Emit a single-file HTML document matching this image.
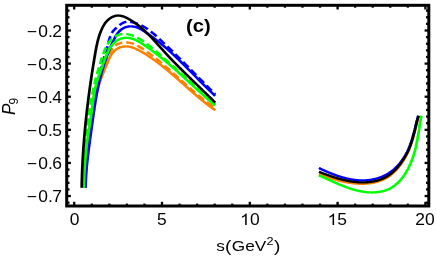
<!DOCTYPE html>
<html><head><meta charset="utf-8"><title>plot</title>
<style>
html,body{margin:0;padding:0;background:#fff;}
svg{display:block;font-family:"Liberation Sans",sans-serif;}
</style></head><body>
<svg width="436" height="262" viewBox="0 0 436 262">
<rect width="436" height="262" fill="#fff"/>
<g fill="none" stroke-width="2.4" stroke-linecap="butt" stroke-linejoin="round" transform="scale(1.14,1)">
<path d="M74.56,187.80 L74.58,187.14 L74.61,186.47 L74.63,185.81 L74.66,185.15 L74.68,184.48 L74.71,183.82 L74.74,183.16 L74.76,182.49 L74.79,181.83 L74.82,181.16 L74.85,180.50 L74.88,179.84 L74.91,179.17 L74.94,178.51 L74.98,177.84 L75.01,177.18 L75.04,176.52 L75.08,175.85 L75.11,175.19 L75.15,174.53 L75.18,173.86 L75.22,173.20 L75.26,172.53 L75.30,171.87 L75.34,171.21 L75.38,170.54 L75.42,169.88 L75.46,169.21 L75.50,168.55 L75.55,167.89 L75.59,167.22 L75.64,166.56 L75.68,165.90 L75.73,165.23 L75.78,164.57 L75.82,163.91 L75.87,163.24 L75.92,162.58 L75.97,161.92 L76.03,161.26 L76.08,160.59 L76.13,159.93 L76.19,159.27 L76.24,158.61 L76.30,157.94 L76.36,157.28 L76.41,156.62 L76.47,155.96 L76.53,155.30 L76.60,154.63 L76.66,153.97 L76.72,153.31 L76.78,152.65 L76.85,151.99 L76.92,151.33 L76.98,150.67 L77.05,150.01 L77.12,149.35 L77.19,148.69 L77.26,148.03 L77.33,147.37 L77.41,146.71 L77.48,146.05 L77.56,145.39 L77.63,144.73 L77.71,144.07 L77.79,143.41 L77.87,142.76 L77.95,142.10 L78.03,141.44 L78.12,140.78 L78.20,140.13 L78.29,139.47 L78.37,138.81 L78.46,138.16 L78.55,137.50 L78.64,136.84 L78.73,136.19 L78.83,135.53 L78.92,134.88 L79.01,134.22 L79.11,133.57 L79.20,132.91 L79.30,132.26 L79.40,131.60 L79.50,130.95 L79.59,130.29 L79.69,129.64 L79.79,128.99 L79.89,128.33 L79.99,127.68 L80.09,127.02 L80.19,126.37 L80.29,125.71 L80.39,125.06 L80.49,124.41 L80.59,123.75 L80.69,123.10 L80.79,122.44 L80.89,121.79 L80.99,121.13 L81.09,120.48 L81.18,119.82 L81.28,119.17 L81.38,118.51 L81.47,117.85 L81.57,117.20 L81.66,116.54 L81.76,115.88 L81.85,115.23 L81.94,114.57 L82.03,113.91 L82.12,113.25 L82.21,112.59 L82.30,111.93 L82.38,111.27 L82.47,110.61 L82.55,109.95 L82.63,109.29 L82.72,108.63 L82.80,107.97 L82.88,107.31 L82.96,106.65 L83.05,105.99 L83.13,105.33 L83.21,104.67 L83.30,104.01 L83.38,103.35 L83.47,102.69 L83.55,102.03 L83.64,101.37 L83.73,100.72 L83.82,100.06 L83.91,99.40 L84.01,98.74 L84.10,98.09 L84.20,97.43 L84.30,96.78 L84.40,96.13 L84.51,95.47 L84.62,94.82 L84.73,94.17 L84.84,93.52 L84.96,92.87 L85.08,92.23 L85.20,91.58 L85.33,90.94 L85.46,90.29 L85.60,89.65 L85.74,89.01 L85.88,88.37 L86.03,87.73 L86.18,87.10 L86.34,86.46 L86.50,85.83 L86.66,85.20 L86.83,84.56 L87.01,83.94 L87.18,83.31 L87.36,82.68 L87.55,82.05 L87.73,81.43 L87.92,80.80 L88.12,80.18 L88.31,79.56 L88.51,78.94 L88.71,78.32 L88.92,77.70 L89.12,77.08 L89.33,76.46 L89.54,75.84 L89.75,75.22 L89.97,74.60 L90.19,73.98 L90.40,73.37 L90.62,72.75 L90.84,72.13 L91.06,71.51 L91.29,70.90 L91.51,70.28 L91.74,69.66 L91.96,69.04 L92.19,68.43 L92.41,67.81 L92.64,67.19 L92.87,66.57 L93.09,65.95 L93.32,65.33 L93.54,64.71 L93.77,64.09 L94.00,63.47 L94.22,62.84 L94.44,62.22 L94.67,61.59 L94.89,60.97 L95.12,60.35 L95.35,59.73 L95.59,59.12 L95.82,58.51 L96.07,57.90 L96.32,57.30 L96.59,56.71 L96.86,56.12 L97.14,55.55 L97.43,54.98 L97.74,54.43 L98.05,53.88 L98.39,53.35 L98.74,52.83 L99.10,52.33 L99.48,51.84 L99.89,51.37 L100.31,50.91 L100.75,50.47 L101.20,50.05 L101.67,49.65 L102.16,49.27 L102.66,48.91 L103.17,48.57 L103.69,48.25 L104.22,47.96 L104.75,47.69 L105.30,47.44 L105.84,47.22 L106.39,47.03 L106.95,46.86 L107.50,46.71 L108.05,46.60 L108.60,46.51 L109.16,46.44 L109.71,46.40 L110.26,46.39 L110.82,46.40 L111.37,46.43 L111.92,46.48 L112.47,46.55 L113.02,46.64 L113.57,46.76 L114.12,46.89 L114.67,47.04 L115.22,47.20 L115.77,47.38 L116.32,47.58 L116.86,47.80 L117.40,48.02 L117.95,48.26 L118.49,48.52 L119.03,48.78 L119.57,49.06 L120.11,49.34 L120.64,49.64 L121.18,49.94 L121.71,50.26 L122.24,50.58 L122.77,50.90 L123.29,51.24 L123.82,51.57 L124.34,51.92 L124.86,52.26 L125.38,52.61 L125.90,52.96 L126.41,53.31 L126.92,53.67 L127.43,54.03 L127.94,54.39 L128.45,54.75 L128.95,55.11 L129.45,55.48 L129.95,55.84 L130.45,56.21 L130.94,56.59 L131.44,56.96 L131.93,57.33 L132.42,57.71 L132.90,58.09 L133.39,58.47 L133.87,58.85 L134.36,59.24 L134.84,59.62 L135.32,60.01 L135.79,60.40 L136.27,60.79 L136.74,61.19 L137.21,61.58 L137.69,61.98 L138.15,62.37 L138.62,62.77 L139.09,63.17 L139.55,63.58 L140.02,63.98 L140.48,64.38 L140.94,64.79 L141.40,65.20 L141.86,65.61 L142.31,66.02 L142.77,66.43 L143.22,66.84 L143.68,67.25 L144.13,67.67 L144.58,68.08 L145.03,68.50 L145.48,68.92 L145.93,69.34 L146.37,69.76 L146.82,70.18 L147.27,70.60 L147.71,71.03 L148.15,71.45 L148.60,71.87 L149.04,72.30 L149.48,72.73 L149.92,73.15 L150.36,73.58 L150.80,74.01 L151.23,74.44 L151.67,74.87 L152.11,75.30 L152.55,75.73 L152.98,76.17 L153.42,76.60 L153.85,77.03 L154.29,77.47 L154.72,77.90 L155.15,78.34 L155.59,78.77 L156.02,79.21 L156.45,79.64 L156.88,80.08 L157.32,80.52 L157.75,80.95 L158.18,81.39 L158.61,81.83 L159.04,82.26 L159.48,82.70 L159.91,83.14 L160.34,83.58 L160.77,84.02 L161.20,84.46 L161.63,84.89 L162.06,85.33 L162.50,85.77 L162.93,86.21 L163.36,86.65 L163.79,87.09 L164.22,87.52 L164.66,87.96 L165.09,88.40 L165.52,88.84 L165.96,89.27 L166.39,89.71 L166.83,90.15 L167.26,90.58 L167.70,91.02 L168.13,91.45 L168.57,91.89 L169.01,92.32 L169.44,92.76 L169.88,93.19 L170.32,93.63 L170.76,94.06 L171.20,94.49 L171.64,94.92 L172.08,95.35 L172.53,95.78 L172.97,96.21 L173.42,96.64 L173.86,97.07 L174.31,97.50 L174.75,97.92 L175.20,98.35 L175.65,98.77 L176.10,99.20 L176.55,99.62 L177.01,100.04 L177.46,100.46 L177.92,100.88 L178.37,101.30 L178.83,101.72 L179.29,102.14 L179.75,102.55 L180.21,102.97 L180.67,103.38 L181.14,103.79 L181.60,104.20 L182.07,104.61 L182.54,105.02 L183.01,105.43 L183.48,105.83 L183.95,106.24 L184.42,106.64 L184.90,107.04 L185.38,107.44 L185.86,107.84 L186.34,108.24 L186.82,108.63 L187.31,109.03 L187.79,109.42 L188.28,109.81 L188.77,110.20" stroke="#ff8000"/>
<path d="M74.39,187.80 L74.41,187.12 L74.43,186.45 L74.45,185.77 L74.48,185.10 L74.50,184.42 L74.53,183.75 L74.55,183.07 L74.58,182.39 L74.61,181.72 L74.63,181.04 L74.66,180.36 L74.69,179.69 L74.72,179.01 L74.75,178.33 L74.78,177.66 L74.81,176.98 L74.85,176.30 L74.88,175.62 L74.92,174.95 L74.95,174.27 L74.99,173.59 L75.02,172.92 L75.06,172.24 L75.10,171.56 L75.14,170.88 L75.18,170.21 L75.22,169.53 L75.26,168.85 L75.30,168.18 L75.34,167.50 L75.39,166.82 L75.43,166.14 L75.48,165.47 L75.52,164.79 L75.57,164.11 L75.62,163.44 L75.67,162.76 L75.72,162.08 L75.77,161.41 L75.82,160.73 L75.88,160.05 L75.93,159.38 L75.98,158.70 L76.04,158.03 L76.10,157.35 L76.16,156.67 L76.21,156.00 L76.27,155.32 L76.34,154.65 L76.40,153.97 L76.46,153.30 L76.53,152.63 L76.59,151.95 L76.66,151.28 L76.73,150.60 L76.80,149.93 L76.87,149.26 L76.94,148.58 L77.01,147.91 L77.08,147.24 L77.16,146.57 L77.23,145.89 L77.31,145.22 L77.39,144.55 L77.47,143.88 L77.55,143.21 L77.63,142.54 L77.71,141.87 L77.80,141.20 L77.88,140.53 L77.97,139.86 L78.06,139.19 L78.15,138.52 L78.24,137.85 L78.33,137.18 L78.42,136.52 L78.52,135.85 L78.61,135.18 L78.71,134.51 L78.81,133.85 L78.91,133.18 L79.00,132.52 L79.10,131.85 L79.20,131.18 L79.31,130.52 L79.41,129.85 L79.51,129.19 L79.61,128.52 L79.71,127.85 L79.82,127.19 L79.92,126.52 L80.02,125.86 L80.13,125.19 L80.23,124.52 L80.33,123.86 L80.43,123.19 L80.53,122.52 L80.64,121.86 L80.74,121.19 L80.84,120.52 L80.94,119.85 L81.04,119.19 L81.14,118.52 L81.23,117.85 L81.33,117.18 L81.42,116.51 L81.52,115.84 L81.61,115.17 L81.70,114.49 L81.79,113.82 L81.88,113.15 L81.97,112.48 L82.06,111.80 L82.14,111.13 L82.23,110.45 L82.31,109.78 L82.39,109.10 L82.47,108.42 L82.56,107.75 L82.64,107.07 L82.72,106.40 L82.80,105.72 L82.88,105.04 L82.96,104.37 L83.04,103.69 L83.12,103.01 L83.20,102.34 L83.29,101.66 L83.37,100.99 L83.46,100.31 L83.55,99.64 L83.63,98.97 L83.72,98.29 L83.82,97.62 L83.91,96.95 L84.01,96.28 L84.11,95.62 L84.21,94.95 L84.31,94.28 L84.42,93.62 L84.53,92.95 L84.64,92.29 L84.75,91.63 L84.87,90.97 L84.99,90.31 L85.12,89.65 L85.25,89.00 L85.38,88.35 L85.52,87.70 L85.66,87.05 L85.81,86.40 L85.96,85.75 L86.12,85.11 L86.27,84.47 L86.43,83.82 L86.60,83.18 L86.77,82.55 L86.94,81.91 L87.11,81.27 L87.29,80.63 L87.47,80.00 L87.65,79.36 L87.84,78.73 L88.03,78.09 L88.22,77.46 L88.41,76.82 L88.60,76.19 L88.80,75.55 L89.00,74.92 L89.19,74.28 L89.39,73.65 L89.60,73.01 L89.80,72.38 L90.00,71.74 L90.21,71.10 L90.41,70.46 L90.62,69.82 L90.82,69.18 L91.03,68.54 L91.24,67.89 L91.44,67.25 L91.65,66.60 L91.86,65.95 L92.06,65.30 L92.27,64.64 L92.47,63.99 L92.68,63.33 L92.88,62.67 L93.08,62.01 L93.29,61.34 L93.49,60.68 L93.69,60.02 L93.90,59.35 L94.11,58.69 L94.32,58.03 L94.53,57.37 L94.75,56.72 L94.98,56.07 L95.21,55.43 L95.45,54.80 L95.69,54.17 L95.95,53.54 L96.21,52.93 L96.49,52.33 L96.77,51.74 L97.06,51.15 L97.37,50.58 L97.69,50.03 L98.02,49.48 L98.36,48.95 L98.72,48.43 L99.09,47.93 L99.48,47.45 L99.88,46.98 L100.29,46.54 L100.72,46.11 L101.16,45.70 L101.61,45.31 L102.08,44.95 L102.55,44.61 L103.04,44.29 L103.54,43.99 L104.05,43.73 L104.57,43.48 L105.10,43.27 L105.64,43.07 L106.19,42.91 L106.75,42.76 L107.32,42.64 L107.89,42.55 L108.46,42.47 L109.04,42.43 L109.63,42.40 L110.22,42.39 L110.81,42.41 L111.40,42.45 L111.99,42.51 L112.58,42.59 L113.18,42.69 L113.77,42.81 L114.35,42.94 L114.94,43.10 L115.52,43.28 L116.10,43.47 L116.67,43.69 L117.23,43.92 L117.79,44.17 L118.34,44.43 L118.89,44.71 L119.43,45.00 L119.97,45.30 L120.50,45.62 L121.03,45.95 L121.56,46.28 L122.08,46.63 L122.60,46.98 L123.11,47.34 L123.62,47.71 L124.13,48.08 L124.64,48.46 L125.14,48.84 L125.64,49.22 L126.15,49.60 L126.64,49.99 L127.14,50.38 L127.64,50.77 L128.13,51.16 L128.62,51.55 L129.11,51.94 L129.60,52.34 L130.09,52.74 L130.57,53.14 L131.06,53.54 L131.54,53.95 L132.02,54.35 L132.50,54.76 L132.98,55.17 L133.45,55.58 L133.93,55.99 L134.40,56.40 L134.88,56.82 L135.35,57.24 L135.82,57.65 L136.29,58.07 L136.75,58.49 L137.22,58.92 L137.69,59.34 L138.15,59.76 L138.61,60.19 L139.08,60.62 L139.54,61.05 L140.00,61.47 L140.45,61.91 L140.91,62.34 L141.37,62.77 L141.82,63.20 L142.28,63.64 L142.73,64.07 L143.19,64.51 L143.64,64.95 L144.09,65.39 L144.54,65.83 L144.99,66.27 L145.44,66.71 L145.89,67.15 L146.34,67.59 L146.79,68.04 L147.23,68.48 L147.68,68.92 L148.13,69.37 L148.57,69.82 L149.02,70.26 L149.46,70.71 L149.90,71.16 L150.35,71.61 L150.79,72.05 L151.23,72.50 L151.67,72.95 L152.12,73.40 L152.56,73.85 L153.00,74.30 L153.44,74.75 L153.88,75.20 L154.32,75.65 L154.76,76.10 L155.20,76.56 L155.64,77.01 L156.08,77.46 L156.52,77.91 L156.96,78.36 L157.40,78.81 L157.84,79.27 L158.28,79.72 L158.72,80.17 L159.16,80.62 L159.60,81.07 L160.04,81.52 L160.49,81.97 L160.93,82.42 L161.37,82.87 L161.81,83.32 L162.25,83.77 L162.69,84.22 L163.14,84.67 L163.58,85.12 L164.02,85.57 L164.47,86.02 L164.91,86.46 L165.35,86.91 L165.80,87.36 L166.24,87.80 L166.69,88.25 L167.14,88.69 L167.59,89.13 L168.03,89.58 L168.48,90.02 L168.93,90.46 L169.38,90.90 L169.83,91.34 L170.28,91.78 L170.74,92.22 L171.19,92.65 L171.64,93.09 L172.10,93.52 L172.55,93.96 L173.01,94.39 L173.47,94.82 L173.93,95.25 L174.39,95.68 L174.85,96.11 L175.31,96.54 L175.77,96.97 L176.24,97.39 L176.70,97.81 L177.17,98.24 L177.63,98.66 L178.10,99.08 L178.57,99.49 L179.04,99.91 L179.52,100.33 L179.99,100.74 L180.46,101.15 L180.94,101.56 L181.42,101.97 L181.90,102.38 L182.38,102.79 L182.86,103.19 L183.34,103.59 L183.83,103.99 L184.32,104.39 L184.80,104.79 L185.29,105.19 L185.79,105.58 L186.28,105.97 L186.77,106.36 L187.27,106.75 L187.77,107.13 L188.27,107.52 L188.77,107.90" stroke="#ff8000" stroke-dasharray="7.0 3.4" stroke-dashoffset="10.00"/>
<path d="M75.09,187.80 L75.09,187.08 L75.10,186.36 L75.11,185.65 L75.12,184.93 L75.14,184.21 L75.16,183.49 L75.17,182.78 L75.19,182.06 L75.22,181.35 L75.24,180.63 L75.27,179.91 L75.30,179.20 L75.33,178.48 L75.36,177.77 L75.39,177.06 L75.43,176.34 L75.47,175.63 L75.51,174.91 L75.55,174.20 L75.59,173.49 L75.63,172.77 L75.68,172.06 L75.73,171.35 L75.78,170.64 L75.83,169.93 L75.88,169.21 L75.93,168.50 L75.99,167.79 L76.04,167.08 L76.10,166.37 L76.16,165.66 L76.22,164.95 L76.28,164.24 L76.35,163.53 L76.41,162.82 L76.47,162.11 L76.54,161.40 L76.61,160.69 L76.68,159.98 L76.74,159.27 L76.81,158.56 L76.89,157.85 L76.96,157.14 L77.03,156.43 L77.10,155.72 L77.18,155.01 L77.25,154.30 L77.33,153.59 L77.41,152.89 L77.48,152.18 L77.56,151.47 L77.64,150.76 L77.72,150.05 L77.80,149.34 L77.88,148.64 L77.96,147.93 L78.04,147.22 L78.13,146.51 L78.21,145.80 L78.29,145.09 L78.37,144.39 L78.46,143.68 L78.54,142.97 L78.62,142.26 L78.71,141.55 L78.79,140.85 L78.88,140.14 L78.96,139.43 L79.04,138.72 L79.13,138.01 L79.21,137.30 L79.30,136.60 L79.38,135.89 L79.47,135.18 L79.55,134.47 L79.63,133.76 L79.72,133.05 L79.80,132.34 L79.89,131.63 L79.97,130.93 L80.05,130.22 L80.13,129.51 L80.22,128.80 L80.30,128.09 L80.38,127.38 L80.47,126.67 L80.55,125.96 L80.63,125.25 L80.71,124.54 L80.80,123.83 L80.88,123.12 L80.96,122.41 L81.05,121.71 L81.13,121.00 L81.21,120.29 L81.30,119.58 L81.38,118.87 L81.47,118.16 L81.55,117.45 L81.64,116.74 L81.72,116.03 L81.81,115.32 L81.90,114.62 L81.99,113.91 L82.07,113.20 L82.16,112.49 L82.25,111.78 L82.34,111.08 L82.43,110.37 L82.52,109.66 L82.62,108.95 L82.71,108.24 L82.80,107.54 L82.90,106.83 L82.99,106.12 L83.09,105.42 L83.19,104.71 L83.28,104.01 L83.38,103.30 L83.48,102.59 L83.58,101.89 L83.69,101.18 L83.79,100.48 L83.89,99.77 L84.00,99.07 L84.10,98.37 L84.21,97.66 L84.32,96.96 L84.43,96.25 L84.54,95.55 L84.66,94.85 L84.77,94.15 L84.89,93.44 L85.00,92.74 L85.12,92.04 L85.24,91.34 L85.36,90.64 L85.49,89.94 L85.61,89.24 L85.74,88.54 L85.86,87.84 L85.99,87.14 L86.12,86.45 L86.26,85.75 L86.39,85.05 L86.53,84.35 L86.67,83.66 L86.80,82.96 L86.95,82.27 L87.09,81.57 L87.24,80.88 L87.38,80.18 L87.53,79.49 L87.68,78.80 L87.84,78.10 L87.99,77.41 L88.15,76.72 L88.31,76.03 L88.47,75.34 L88.63,74.65 L88.79,73.96 L88.96,73.27 L89.13,72.58 L89.30,71.90 L89.47,71.21 L89.64,70.52 L89.82,69.84 L89.99,69.15 L90.17,68.47 L90.36,67.79 L90.54,67.10 L90.72,66.42 L90.91,65.74 L91.10,65.06 L91.29,64.38 L91.48,63.70 L91.68,63.02 L91.88,62.35 L92.08,61.67 L92.28,60.99 L92.48,60.32 L92.68,59.65 L92.89,58.97 L93.10,58.30 L93.31,57.63 L93.52,56.96 L93.74,56.29 L93.95,55.62 L94.17,54.95 L94.39,54.29 L94.62,53.62 L94.84,52.96 L95.07,52.29 L95.30,51.63 L95.53,50.97 L95.77,50.30 L96.00,49.64 L96.24,48.98 L96.48,48.32 L96.73,47.66 L96.97,47.01 L97.22,46.35 L97.47,45.69 L97.73,45.04 L97.98,44.38 L98.24,43.73 L98.51,43.07 L98.77,42.42 L99.04,41.77 L99.31,41.12 L99.58,40.46 L99.85,39.81 L100.13,39.17 L100.42,38.52 L100.70,37.88 L101.00,37.24 L101.30,36.60 L101.62,35.98 L101.94,35.36 L102.27,34.75 L102.62,34.15 L102.98,33.57 L103.36,33.00 L103.75,32.44 L104.16,31.89 L104.58,31.37 L105.03,30.86 L105.49,30.37 L105.97,29.90 L106.47,29.46 L106.98,29.05 L107.51,28.66 L108.05,28.30 L108.60,27.98 L109.17,27.68 L109.75,27.42 L110.33,27.18 L110.93,26.98 L111.53,26.80 L112.14,26.66 L112.76,26.55 L113.38,26.46 L114.00,26.41 L114.62,26.38 L115.24,26.38 L115.87,26.42 L116.48,26.48 L117.10,26.57 L117.71,26.68 L118.32,26.83 L118.92,27.01 L119.51,27.21 L120.09,27.44 L120.67,27.69 L121.24,27.96 L121.81,28.25 L122.37,28.57 L122.93,28.89 L123.48,29.24 L124.03,29.59 L124.57,29.96 L125.11,30.33 L125.65,30.72 L126.18,31.11 L126.71,31.50 L127.24,31.90 L127.77,32.30 L128.30,32.70 L128.82,33.10 L129.35,33.51 L129.87,33.91 L130.39,34.32 L130.90,34.74 L131.42,35.15 L131.93,35.57 L132.44,35.99 L132.95,36.41 L133.46,36.83 L133.97,37.25 L134.47,37.68 L134.98,38.11 L135.48,38.54 L135.98,38.98 L136.48,39.41 L136.97,39.85 L137.47,40.29 L137.96,40.73 L138.46,41.17 L138.95,41.62 L139.44,42.06 L139.92,42.51 L140.41,42.96 L140.90,43.41 L141.38,43.87 L141.86,44.32 L142.34,44.78 L142.82,45.24 L143.30,45.70 L143.78,46.16 L144.26,46.62 L144.73,47.09 L145.20,47.55 L145.68,48.02 L146.15,48.49 L146.62,48.96 L147.09,49.43 L147.56,49.91 L148.02,50.38 L148.49,50.86 L148.95,51.33 L149.42,51.81 L149.88,52.29 L150.34,52.77 L150.80,53.26 L151.26,53.74 L151.72,54.22 L152.18,54.71 L152.64,55.20 L153.09,55.68 L153.55,56.17 L154.01,56.66 L154.46,57.15 L154.91,57.65 L155.37,58.14 L155.82,58.63 L156.27,59.13 L156.72,59.62 L157.17,60.12 L157.62,60.62 L158.07,61.11 L158.52,61.61 L158.96,62.11 L159.41,62.61 L159.86,63.11 L160.30,63.61 L160.75,64.12 L161.19,64.62 L161.64,65.12 L162.08,65.63 L162.53,66.13 L162.97,66.64 L163.41,67.14 L163.86,67.65 L164.30,68.15 L164.74,68.66 L165.18,69.17 L165.62,69.67 L166.07,70.18 L166.51,70.69 L166.95,71.20 L167.39,71.71 L167.83,72.22 L168.27,72.72 L168.71,73.23 L169.15,73.74 L169.59,74.25 L170.03,74.76 L170.47,75.27 L170.91,75.78 L171.35,76.29 L171.79,76.80 L172.23,77.31 L172.67,77.82 L173.11,78.33 L173.56,78.84 L174.00,79.35 L174.44,79.85 L174.88,80.36 L175.32,80.87 L175.76,81.38 L176.20,81.89 L176.65,82.40 L177.09,82.90 L177.53,83.41 L177.98,83.92 L178.42,84.42 L178.86,84.93 L179.31,85.43 L179.75,85.94 L180.20,86.44 L180.64,86.95 L181.09,87.45 L181.54,87.95 L181.98,88.46 L182.43,88.96 L182.88,89.46 L183.33,89.96 L183.78,90.46 L184.23,90.96 L184.68,91.46 L185.13,91.95 L185.58,92.45 L186.04,92.94 L186.49,93.44 L186.95,93.93 L187.40,94.43 L187.86,94.92 L188.31,95.41 L188.77,95.90" stroke="#0000ff"/>
<path d="M74.04,187.80 L74.04,187.06 L74.04,186.32 L74.05,185.59 L74.06,184.85 L74.07,184.11 L74.09,183.38 L74.11,182.64 L74.12,181.90 L74.14,181.17 L74.17,180.43 L74.19,179.70 L74.22,178.96 L74.25,178.23 L74.28,177.49 L74.31,176.76 L74.34,176.02 L74.38,175.29 L74.41,174.56 L74.45,173.82 L74.49,173.09 L74.54,172.35 L74.58,171.62 L74.63,170.89 L74.67,170.16 L74.72,169.42 L74.77,168.69 L74.82,167.96 L74.88,167.23 L74.93,166.49 L74.99,165.76 L75.05,165.03 L75.10,164.30 L75.16,163.57 L75.23,162.84 L75.29,162.11 L75.35,161.38 L75.42,160.65 L75.48,159.92 L75.55,159.18 L75.62,158.45 L75.69,157.72 L75.76,156.99 L75.83,156.26 L75.91,155.53 L75.98,154.81 L76.05,154.08 L76.13,153.35 L76.21,152.62 L76.28,151.89 L76.36,151.16 L76.44,150.43 L76.52,149.70 L76.60,148.97 L76.68,148.24 L76.76,147.51 L76.85,146.79 L76.93,146.06 L77.01,145.33 L77.10,144.60 L77.18,143.87 L77.27,143.14 L77.35,142.41 L77.44,141.69 L77.53,140.96 L77.62,140.23 L77.70,139.50 L77.79,138.77 L77.88,138.04 L77.97,137.32 L78.06,136.59 L78.14,135.86 L78.23,135.13 L78.32,134.40 L78.41,133.68 L78.50,132.95 L78.59,132.22 L78.68,131.49 L78.77,130.76 L78.86,130.04 L78.95,129.31 L79.04,128.58 L79.13,127.85 L79.22,127.12 L79.31,126.39 L79.40,125.67 L79.49,124.94 L79.58,124.21 L79.66,123.48 L79.75,122.75 L79.84,122.03 L79.93,121.30 L80.02,120.57 L80.11,119.84 L80.20,119.11 L80.29,118.38 L80.38,117.66 L80.47,116.93 L80.56,116.20 L80.65,115.47 L80.74,114.74 L80.84,114.02 L80.93,113.29 L81.02,112.56 L81.11,111.83 L81.21,111.11 L81.30,110.38 L81.40,109.65 L81.49,108.93 L81.59,108.20 L81.68,107.47 L81.78,106.75 L81.88,106.02 L81.98,105.29 L82.08,104.57 L82.18,103.84 L82.28,103.12 L82.38,102.39 L82.48,101.67 L82.58,100.94 L82.69,100.22 L82.79,99.49 L82.90,98.77 L83.01,98.04 L83.11,97.32 L83.22,96.60 L83.33,95.87 L83.45,95.15 L83.56,94.43 L83.67,93.71 L83.79,92.98 L83.90,92.26 L84.02,91.54 L84.14,90.82 L84.26,90.10 L84.38,89.38 L84.50,88.66 L84.63,87.94 L84.75,87.22 L84.88,86.50 L85.01,85.78 L85.14,85.06 L85.27,84.34 L85.40,83.62 L85.54,82.90 L85.67,82.19 L85.81,81.47 L85.95,80.75 L86.09,80.04 L86.23,79.32 L86.38,78.61 L86.53,77.89 L86.67,77.18 L86.82,76.46 L86.98,75.75 L87.13,75.04 L87.29,74.32 L87.44,73.61 L87.60,72.90 L87.77,72.19 L87.93,71.48 L88.09,70.77 L88.26,70.06 L88.43,69.35 L88.60,68.64 L88.77,67.93 L88.95,67.22 L89.12,66.51 L89.30,65.81 L89.47,65.10 L89.65,64.39 L89.83,63.68 L90.01,62.98 L90.19,62.27 L90.37,61.56 L90.56,60.86 L90.74,60.15 L90.92,59.45 L91.10,58.74 L91.29,58.04 L91.47,57.33 L91.65,56.62 L91.84,55.92 L92.02,55.21 L92.20,54.51 L92.38,53.80 L92.57,53.10 L92.75,52.39 L92.93,51.69 L93.11,50.98 L93.29,50.28 L93.46,49.57 L93.64,48.87 L93.82,48.16 L93.99,47.45 L94.17,46.75 L94.34,46.04 L94.51,45.34 L94.68,44.63 L94.85,43.92 L95.01,43.22 L95.18,42.51 L95.34,41.80 L95.50,41.09 L95.66,40.39 L95.83,39.68 L96.00,38.98 L96.18,38.29 L96.37,37.59 L96.57,36.91 L96.78,36.23 L97.01,35.56 L97.26,34.89 L97.53,34.24 L97.82,33.60 L98.13,32.96 L98.47,32.34 L98.84,31.73 L99.23,31.14 L99.66,30.56 L100.11,29.99 L100.58,29.44 L101.07,28.90 L101.57,28.36 L102.08,27.83 L102.59,27.31 L103.11,26.80 L103.62,26.30 L104.14,25.80 L104.65,25.32 L105.17,24.86 L105.70,24.42 L106.23,24.00 L106.76,23.61 L107.31,23.24 L107.86,22.91 L108.43,22.62 L109.00,22.37 L109.59,22.15 L110.19,21.99 L110.81,21.87 L111.45,21.80 L112.09,21.77 L112.75,21.78 L113.41,21.83 L114.06,21.91 L114.72,22.00 L115.37,22.12 L116.01,22.25 L116.65,22.39 L117.28,22.56 L117.91,22.73 L118.52,22.93 L119.14,23.13 L119.75,23.36 L120.35,23.59 L120.94,23.84 L121.54,24.11 L122.12,24.38 L122.70,24.67 L123.28,24.97 L123.85,25.28 L124.42,25.61 L124.98,25.94 L125.54,26.29 L126.09,26.65 L126.64,27.01 L127.18,27.39 L127.72,27.78 L128.26,28.17 L128.79,28.58 L129.32,28.99 L129.85,29.41 L130.37,29.84 L130.89,30.27 L131.41,30.71 L131.92,31.16 L132.43,31.62 L132.94,32.08 L133.44,32.54 L133.94,33.02 L134.44,33.49 L134.94,33.97 L135.43,34.46 L135.93,34.94 L136.42,35.44 L136.91,35.93 L137.39,36.43 L137.88,36.93 L138.36,37.43 L138.84,37.93 L139.32,38.44 L139.80,38.94 L140.28,39.45 L140.76,39.95 L141.24,40.46 L141.71,40.96 L142.19,41.47 L142.66,41.97 L143.14,42.48 L143.61,42.99 L144.08,43.49 L144.55,44.00 L145.02,44.51 L145.49,45.02 L145.96,45.52 L146.42,46.03 L146.89,46.54 L147.36,47.05 L147.82,47.56 L148.29,48.07 L148.75,48.57 L149.21,49.08 L149.68,49.59 L150.14,50.10 L150.60,50.61 L151.06,51.12 L151.52,51.63 L151.98,52.14 L152.44,52.65 L152.90,53.16 L153.35,53.67 L153.81,54.19 L154.27,54.70 L154.72,55.21 L155.18,55.72 L155.63,56.23 L156.09,56.75 L156.54,57.26 L157.00,57.77 L157.45,58.28 L157.91,58.80 L158.36,59.31 L158.81,59.82 L159.26,60.34 L159.72,60.85 L160.17,61.37 L160.62,61.88 L161.07,62.40 L161.52,62.91 L161.97,63.43 L162.42,63.94 L162.87,64.46 L163.32,64.97 L163.77,65.49 L164.22,66.01 L164.67,66.52 L165.12,67.04 L165.57,67.56 L166.02,68.08 L166.47,68.59 L166.92,69.11 L167.37,69.63 L167.82,70.15 L168.27,70.67 L168.72,71.19 L169.17,71.71 L169.62,72.23 L170.07,72.75 L170.52,73.27 L170.97,73.79 L171.42,74.31 L171.87,74.83 L172.32,75.35 L172.77,75.87 L173.22,76.39 L173.67,76.91 L174.12,77.44 L174.57,77.96 L175.02,78.48 L175.47,79.01 L175.93,79.53 L176.38,80.05 L176.83,80.58 L177.29,81.10 L177.74,81.63 L178.19,82.15 L178.65,82.68 L179.10,83.20 L179.56,83.73 L180.01,84.25 L180.47,84.78 L180.92,85.30 L181.38,85.83 L181.84,86.36 L182.30,86.89 L182.76,87.41 L183.21,87.94 L183.67,88.47 L184.13,89.00 L184.59,89.53 L185.06,90.06 L185.52,90.59 L185.98,91.12 L186.44,91.65 L186.91,92.18 L187.37,92.71 L187.84,93.24 L188.30,93.77 L188.77,94.30" stroke="#0000ff" stroke-dasharray="7.0 3.4" stroke-dashoffset="9.36"/>
<path d="M73.55,187.80 L73.57,187.11 L73.58,186.42 L73.60,185.73 L73.62,185.03 L73.63,184.34 L73.65,183.65 L73.67,182.96 L73.69,182.27 L73.71,181.58 L73.73,180.88 L73.75,180.19 L73.78,179.50 L73.80,178.81 L73.83,178.11 L73.85,177.42 L73.88,176.73 L73.90,176.04 L73.93,175.34 L73.96,174.65 L73.99,173.96 L74.02,173.26 L74.05,172.57 L74.08,171.88 L74.11,171.19 L74.15,170.49 L74.18,169.80 L74.22,169.11 L74.25,168.42 L74.29,167.72 L74.33,167.03 L74.37,166.34 L74.41,165.64 L74.45,164.95 L74.49,164.26 L74.53,163.57 L74.58,162.88 L74.62,162.18 L74.67,161.49 L74.71,160.80 L74.76,160.11 L74.81,159.42 L74.86,158.72 L74.91,158.03 L74.96,157.34 L75.01,156.65 L75.07,155.96 L75.12,155.27 L75.18,154.58 L75.23,153.89 L75.29,153.20 L75.35,152.51 L75.41,151.82 L75.47,151.13 L75.54,150.44 L75.60,149.75 L75.66,149.06 L75.73,148.37 L75.80,147.68 L75.86,146.99 L75.93,146.30 L76.00,145.61 L76.07,144.93 L76.15,144.24 L76.22,143.55 L76.30,142.86 L76.37,142.18 L76.45,141.49 L76.53,140.80 L76.61,140.12 L76.69,139.43 L76.77,138.75 L76.86,138.06 L76.94,137.38 L77.03,136.69 L77.12,136.01 L77.20,135.33 L77.29,134.64 L77.38,133.96 L77.47,133.28 L77.57,132.59 L77.66,131.91 L77.75,131.23 L77.85,130.54 L77.94,129.86 L78.04,129.18 L78.13,128.50 L78.23,127.81 L78.32,127.13 L78.42,126.45 L78.51,125.77 L78.61,125.08 L78.71,124.40 L78.80,123.72 L78.90,123.03 L78.99,122.35 L79.09,121.67 L79.18,120.98 L79.28,120.30 L79.37,119.61 L79.46,118.93 L79.55,118.24 L79.64,117.56 L79.73,116.87 L79.82,116.18 L79.91,115.50 L80.00,114.81 L80.08,114.12 L80.17,113.43 L80.25,112.74 L80.33,112.05 L80.42,111.36 L80.50,110.67 L80.57,109.98 L80.65,109.29 L80.73,108.60 L80.81,107.91 L80.88,107.22 L80.96,106.52 L81.04,105.83 L81.11,105.14 L81.19,104.45 L81.27,103.76 L81.35,103.07 L81.43,102.37 L81.51,101.68 L81.59,100.99 L81.67,100.30 L81.76,99.61 L81.84,98.93 L81.93,98.24 L82.02,97.55 L82.11,96.87 L82.20,96.18 L82.30,95.50 L82.40,94.81 L82.50,94.13 L82.61,93.45 L82.71,92.77 L82.82,92.09 L82.94,91.42 L83.05,90.74 L83.17,90.07 L83.30,89.39 L83.43,88.72 L83.56,88.05 L83.70,87.39 L83.84,86.72 L83.98,86.06 L84.13,85.39 L84.29,84.73 L84.44,84.07 L84.60,83.41 L84.77,82.76 L84.93,82.10 L85.11,81.44 L85.28,80.79 L85.46,80.14 L85.64,79.48 L85.82,78.83 L86.00,78.18 L86.19,77.53 L86.38,76.88 L86.57,76.23 L86.77,75.58 L86.96,74.93 L87.16,74.28 L87.36,73.63 L87.56,72.98 L87.77,72.33 L87.97,71.68 L88.18,71.02 L88.38,70.37 L88.59,69.72 L88.80,69.07 L89.01,68.41 L89.22,67.76 L89.43,67.10 L89.64,66.45 L89.86,65.79 L90.07,65.13 L90.28,64.47 L90.49,63.81 L90.70,63.14 L90.91,62.48 L91.13,61.81 L91.34,61.15 L91.55,60.48 L91.76,59.81 L91.98,59.14 L92.20,58.48 L92.42,57.81 L92.64,57.15 L92.87,56.49 L93.10,55.83 L93.34,55.17 L93.58,54.51 L93.83,53.86 L94.09,53.22 L94.35,52.57 L94.61,51.94 L94.89,51.30 L95.17,50.68 L95.47,50.05 L95.77,49.44 L96.08,48.83 L96.40,48.23 L96.73,47.63 L97.07,47.05 L97.42,46.47 L97.78,45.90 L98.16,45.34 L98.55,44.80 L98.94,44.26 L99.35,43.75 L99.77,43.24 L100.19,42.75 L100.63,42.28 L101.08,41.83 L101.54,41.40 L102.00,40.98 L102.48,40.59 L102.97,40.23 L103.46,39.88 L103.97,39.56 L104.48,39.27 L105.00,39.00 L105.54,38.77 L106.08,38.56 L106.62,38.37 L107.18,38.22 L107.74,38.09 L108.31,37.98 L108.88,37.90 L109.45,37.85 L110.03,37.82 L110.62,37.81 L111.20,37.83 L111.79,37.87 L112.38,37.93 L112.97,38.01 L113.56,38.12 L114.15,38.24 L114.74,38.39 L115.32,38.56 L115.91,38.74 L116.49,38.95 L117.06,39.17 L117.64,39.41 L118.20,39.67 L118.77,39.94 L119.32,40.23 L119.88,40.54 L120.42,40.86 L120.97,41.19 L121.51,41.53 L122.04,41.89 L122.57,42.25 L123.10,42.62 L123.63,42.99 L124.15,43.37 L124.67,43.76 L125.19,44.15 L125.70,44.54 L126.22,44.93 L126.73,45.32 L127.25,45.72 L127.76,46.12 L128.26,46.52 L128.77,46.92 L129.28,47.32 L129.78,47.72 L130.28,48.13 L130.79,48.53 L131.29,48.94 L131.78,49.35 L132.28,49.76 L132.78,50.17 L133.27,50.58 L133.76,51.00 L134.25,51.42 L134.74,51.83 L135.23,52.25 L135.72,52.67 L136.21,53.09 L136.69,53.52 L137.18,53.94 L137.66,54.36 L138.14,54.79 L138.62,55.22 L139.10,55.65 L139.58,56.08 L140.05,56.51 L140.53,56.94 L141.01,57.37 L141.48,57.81 L141.95,58.24 L142.42,58.68 L142.89,59.12 L143.36,59.56 L143.83,59.99 L144.30,60.44 L144.77,60.88 L145.23,61.32 L145.70,61.76 L146.16,62.21 L146.63,62.65 L147.09,63.10 L147.55,63.54 L148.01,63.99 L148.47,64.44 L148.93,64.89 L149.39,65.34 L149.85,65.79 L150.31,66.24 L150.76,66.69 L151.22,67.15 L151.68,67.60 L152.13,68.06 L152.59,68.51 L153.04,68.97 L153.49,69.42 L153.95,69.88 L154.40,70.34 L154.85,70.80 L155.30,71.25 L155.75,71.71 L156.20,72.17 L156.65,72.63 L157.10,73.09 L157.55,73.56 L158.00,74.02 L158.45,74.48 L158.90,74.94 L159.35,75.41 L159.79,75.87 L160.24,76.33 L160.69,76.80 L161.14,77.26 L161.58,77.73 L162.03,78.19 L162.48,78.66 L162.92,79.12 L163.37,79.59 L163.81,80.05 L164.26,80.52 L164.71,80.98 L165.15,81.45 L165.60,81.92 L166.04,82.38 L166.49,82.85 L166.94,83.32 L167.38,83.79 L167.83,84.25 L168.28,84.72 L168.72,85.19 L169.17,85.65 L169.61,86.12 L170.06,86.59 L170.51,87.06 L170.96,87.52 L171.40,87.99 L171.85,88.46 L172.30,88.92 L172.75,89.39 L173.20,89.86 L173.65,90.32 L174.09,90.79 L174.54,91.25 L174.99,91.72 L175.44,92.19 L175.90,92.65 L176.35,93.12 L176.80,93.58 L177.25,94.05 L177.70,94.51 L178.16,94.97 L178.61,95.44 L179.07,95.90 L179.52,96.36 L179.98,96.82 L180.43,97.29 L180.89,97.75 L181.35,98.21 L181.80,98.67 L182.26,99.13 L182.72,99.59 L183.18,100.04 L183.64,100.50 L184.11,100.96 L184.57,101.42 L185.03,101.87 L185.50,102.33 L185.96,102.78 L186.43,103.24 L186.90,103.69 L187.36,104.15 L187.83,104.60 L188.30,105.05 L188.77,105.50" stroke="#00ff00"/>
<path d="M72.72,187.80 L72.71,187.09 L72.70,186.37 L72.70,185.66 L72.69,184.94 L72.69,184.23 L72.69,183.52 L72.69,182.80 L72.69,182.09 L72.70,181.38 L72.71,180.67 L72.71,179.95 L72.72,179.24 L72.74,178.53 L72.75,177.82 L72.77,177.11 L72.78,176.40 L72.80,175.69 L72.82,174.98 L72.84,174.26 L72.87,173.55 L72.89,172.85 L72.92,172.14 L72.95,171.43 L72.98,170.72 L73.01,170.01 L73.04,169.30 L73.07,168.59 L73.11,167.88 L73.14,167.17 L73.18,166.46 L73.22,165.76 L73.26,165.05 L73.30,164.34 L73.35,163.63 L73.39,162.93 L73.44,162.22 L73.48,161.51 L73.53,160.80 L73.58,160.10 L73.63,159.39 L73.68,158.68 L73.73,157.98 L73.78,157.27 L73.84,156.56 L73.89,155.86 L73.95,155.15 L74.00,154.44 L74.06,153.74 L74.12,153.03 L74.18,152.33 L74.24,151.62 L74.30,150.91 L74.36,150.21 L74.42,149.50 L74.48,148.80 L74.55,148.09 L74.61,147.38 L74.68,146.68 L74.74,145.97 L74.81,145.27 L74.88,144.56 L74.94,143.85 L75.01,143.15 L75.08,142.44 L75.15,141.74 L75.22,141.03 L75.29,140.33 L75.36,139.62 L75.43,138.91 L75.50,138.21 L75.57,137.50 L75.64,136.80 L75.71,136.09 L75.79,135.38 L75.86,134.68 L75.93,133.97 L76.00,133.26 L76.08,132.56 L76.15,131.85 L76.22,131.15 L76.30,130.44 L76.37,129.73 L76.45,129.03 L76.52,128.32 L76.59,127.61 L76.67,126.90 L76.74,126.20 L76.82,125.49 L76.90,124.78 L76.97,124.08 L77.05,123.37 L77.13,122.66 L77.21,121.96 L77.28,121.25 L77.36,120.55 L77.44,119.84 L77.52,119.13 L77.60,118.43 L77.69,117.72 L77.77,117.01 L77.85,116.31 L77.94,115.60 L78.02,114.90 L78.10,114.19 L78.19,113.49 L78.28,112.78 L78.37,112.08 L78.45,111.37 L78.54,110.67 L78.63,109.96 L78.72,109.26 L78.82,108.56 L78.91,107.85 L79.00,107.15 L79.10,106.45 L79.20,105.74 L79.29,105.04 L79.39,104.34 L79.49,103.64 L79.59,102.94 L79.69,102.24 L79.80,101.54 L79.90,100.84 L80.01,100.14 L80.11,99.44 L80.22,98.74 L80.33,98.04 L80.44,97.34 L80.55,96.64 L80.67,95.94 L80.78,95.25 L80.90,94.55 L81.02,93.85 L81.14,93.16 L81.26,92.46 L81.38,91.77 L81.50,91.07 L81.63,90.38 L81.75,89.68 L81.88,88.99 L82.01,88.30 L82.15,87.61 L82.28,86.91 L82.41,86.22 L82.55,85.53 L82.69,84.84 L82.83,84.15 L82.97,83.47 L83.12,82.78 L83.26,82.09 L83.41,81.40 L83.56,80.72 L83.71,80.03 L83.87,79.35 L84.02,78.66 L84.18,77.98 L84.34,77.29 L84.50,76.61 L84.66,75.93 L84.82,75.24 L84.99,74.56 L85.15,73.88 L85.32,73.20 L85.49,72.52 L85.66,71.84 L85.83,71.16 L86.01,70.48 L86.18,69.80 L86.36,69.12 L86.53,68.44 L86.71,67.76 L86.89,67.08 L87.07,66.40 L87.25,65.72 L87.44,65.04 L87.62,64.36 L87.81,63.68 L87.99,63.00 L88.18,62.32 L88.37,61.65 L88.56,60.97 L88.75,60.29 L88.94,59.61 L89.13,58.93 L89.32,58.25 L89.52,57.57 L89.71,56.89 L89.91,56.21 L90.11,55.54 L90.31,54.86 L90.51,54.18 L90.72,53.51 L90.93,52.84 L91.15,52.16 L91.37,51.50 L91.60,50.83 L91.84,50.17 L92.08,49.51 L92.33,48.85 L92.60,48.20 L92.87,47.55 L93.15,46.91 L93.44,46.27 L93.74,45.64 L94.05,45.01 L94.37,44.39 L94.71,43.78 L95.06,43.18 L95.42,42.58 L95.79,42.00 L96.17,41.43 L96.57,40.87 L96.97,40.32 L97.39,39.80 L97.82,39.28 L98.26,38.79 L98.71,38.32 L99.18,37.86 L99.65,37.43 L100.14,37.02 L100.63,36.63 L101.14,36.27 L101.66,35.93 L102.19,35.62 L102.74,35.34 L103.29,35.09 L103.85,34.87 L104.42,34.67 L105.00,34.50 L105.59,34.35 L106.19,34.23 L106.79,34.14 L107.39,34.07 L108.00,34.02 L108.62,34.00 L109.24,34.01 L109.86,34.03 L110.48,34.08 L111.10,34.15 L111.73,34.23 L112.35,34.34 L112.97,34.48 L113.59,34.62 L114.21,34.79 L114.82,34.98 L115.43,35.19 L116.03,35.41 L116.63,35.65 L117.22,35.91 L117.81,36.18 L118.38,36.47 L118.96,36.77 L119.53,37.09 L120.09,37.41 L120.64,37.75 L121.20,38.10 L121.74,38.46 L122.29,38.83 L122.83,39.21 L123.36,39.59 L123.89,39.98 L124.42,40.38 L124.94,40.78 L125.46,41.19 L125.98,41.59 L126.49,42.01 L127.01,42.42 L127.52,42.84 L128.02,43.26 L128.53,43.68 L129.03,44.11 L129.53,44.53 L130.03,44.96 L130.52,45.40 L131.01,45.83 L131.50,46.27 L131.99,46.71 L132.48,47.15 L132.97,47.59 L133.45,48.04 L133.93,48.49 L134.41,48.94 L134.89,49.39 L135.36,49.84 L135.84,50.29 L136.31,50.75 L136.79,51.21 L137.26,51.67 L137.73,52.13 L138.20,52.59 L138.67,53.05 L139.14,53.51 L139.60,53.98 L140.07,54.44 L140.54,54.91 L141.00,55.38 L141.47,55.85 L141.93,56.31 L142.40,56.78 L142.86,57.25 L143.32,57.72 L143.79,58.19 L144.25,58.66 L144.71,59.13 L145.18,59.61 L145.64,60.08 L146.11,60.55 L146.57,61.02 L147.04,61.49 L147.50,61.96 L147.97,62.43 L148.43,62.90 L148.90,63.37 L149.36,63.85 L149.83,64.32 L150.29,64.79 L150.76,65.26 L151.23,65.73 L151.69,66.20 L152.16,66.67 L152.63,67.15 L153.09,67.62 L153.56,68.09 L154.03,68.56 L154.49,69.03 L154.96,69.51 L155.43,69.98 L155.89,70.45 L156.36,70.92 L156.83,71.40 L157.30,71.87 L157.76,72.34 L158.23,72.81 L158.70,73.29 L159.17,73.76 L159.63,74.23 L160.10,74.71 L160.57,75.18 L161.03,75.65 L161.50,76.13 L161.97,76.60 L162.44,77.07 L162.90,77.55 L163.37,78.02 L163.84,78.50 L164.31,78.97 L164.77,79.44 L165.24,79.92 L165.71,80.39 L166.17,80.87 L166.64,81.34 L167.11,81.82 L167.57,82.29 L168.04,82.77 L168.50,83.24 L168.97,83.72 L169.44,84.19 L169.90,84.67 L170.37,85.14 L170.83,85.62 L171.30,86.10 L171.76,86.57 L172.23,87.05 L172.69,87.52 L173.16,88.00 L173.62,88.48 L174.08,88.95 L174.55,89.43 L175.01,89.91 L175.47,90.39 L175.94,90.86 L176.40,91.34 L176.86,91.82 L177.32,92.30 L177.79,92.77 L178.25,93.25 L178.71,93.73 L179.17,94.21 L179.63,94.69 L180.09,95.17 L180.55,95.65 L181.01,96.13 L181.47,96.60 L181.93,97.08 L182.39,97.56 L182.85,98.04 L183.31,98.52 L183.76,99.00 L184.22,99.48 L184.68,99.97 L185.13,100.45 L185.59,100.93 L186.05,101.41 L186.50,101.89 L186.96,102.37 L187.41,102.85 L187.87,103.34 L188.32,103.82 L188.77,104.30" stroke="#00ff00" stroke-dasharray="7.0 3.4" stroke-dashoffset="10.26"/>
<path d="M71.67,187.80 L71.68,187.01 L71.69,186.22 L71.70,185.44 L71.72,184.65 L71.73,183.86 L71.75,183.07 L71.76,182.28 L71.78,181.49 L71.80,180.71 L71.82,179.92 L71.84,179.13 L71.86,178.34 L71.88,177.55 L71.90,176.76 L71.92,175.98 L71.95,175.19 L71.97,174.40 L72.00,173.61 L72.02,172.82 L72.05,172.03 L72.07,171.25 L72.10,170.46 L72.13,169.67 L72.16,168.88 L72.19,168.09 L72.22,167.30 L72.25,166.52 L72.29,165.73 L72.32,164.94 L72.35,164.15 L72.39,163.36 L72.42,162.58 L72.46,161.79 L72.50,161.00 L72.53,160.21 L72.57,159.42 L72.61,158.64 L72.65,157.85 L72.69,157.06 L72.73,156.27 L72.77,155.48 L72.82,154.70 L72.86,153.91 L72.90,153.12 L72.95,152.33 L72.99,151.54 L73.04,150.76 L73.08,149.97 L73.13,149.18 L73.18,148.39 L73.23,147.61 L73.28,146.82 L73.33,146.03 L73.38,145.24 L73.43,144.46 L73.48,143.67 L73.54,142.88 L73.59,142.09 L73.64,141.31 L73.70,140.52 L73.75,139.73 L73.81,138.95 L73.87,138.16 L73.92,137.37 L73.98,136.59 L74.04,135.80 L74.10,135.01 L74.16,134.23 L74.22,133.44 L74.28,132.65 L74.35,131.87 L74.41,131.08 L74.47,130.29 L74.54,129.51 L74.60,128.72 L74.67,127.93 L74.73,127.15 L74.80,126.36 L74.87,125.58 L74.93,124.79 L75.00,124.00 L75.07,123.22 L75.14,122.43 L75.21,121.65 L75.28,120.86 L75.35,120.08 L75.43,119.29 L75.50,118.51 L75.57,117.72 L75.65,116.94 L75.72,116.15 L75.80,115.37 L75.87,114.58 L75.95,113.80 L76.03,113.01 L76.10,112.23 L76.18,111.44 L76.26,110.66 L76.34,109.87 L76.42,109.09 L76.50,108.31 L76.58,107.52 L76.67,106.74 L76.75,105.95 L76.83,105.17 L76.91,104.39 L77.00,103.60 L77.08,102.82 L77.17,102.04 L77.25,101.25 L77.34,100.47 L77.43,99.69 L77.51,98.90 L77.60,98.12 L77.69,97.34 L77.78,96.56 L77.87,95.77 L77.96,94.99 L78.05,94.21 L78.14,93.43 L78.23,92.65 L78.33,91.86 L78.42,91.08 L78.51,90.30 L78.61,89.52 L78.70,88.74 L78.80,87.96 L78.89,87.18 L78.99,86.40 L79.09,85.62 L79.18,84.83 L79.28,84.05 L79.38,83.27 L79.48,82.49 L79.58,81.71 L79.68,80.93 L79.78,80.15 L79.88,79.37 L79.98,78.59 L80.08,77.81 L80.18,77.04 L80.29,76.26 L80.39,75.48 L80.49,74.70 L80.60,73.92 L80.70,73.14 L80.81,72.36 L80.91,71.59 L81.02,70.81 L81.13,70.03 L81.23,69.25 L81.34,68.47 L81.45,67.70 L81.56,66.92 L81.67,66.14 L81.78,65.36 L81.89,64.59 L82.00,63.81 L82.11,63.03 L82.22,62.26 L82.33,61.48 L82.45,60.70 L82.56,59.93 L82.67,59.15 L82.79,58.38 L82.90,57.60 L83.02,56.82 L83.13,56.05 L83.25,55.27 L83.37,54.49 L83.48,53.72 L83.60,52.94 L83.72,52.17 L83.84,51.39 L83.97,50.61 L84.09,49.84 L84.22,49.06 L84.35,48.29 L84.48,47.51 L84.61,46.74 L84.75,45.96 L84.89,45.19 L85.04,44.41 L85.19,43.64 L85.35,42.87 L85.51,42.09 L85.67,41.32 L85.84,40.55 L86.02,39.78 L86.20,39.01 L86.39,38.24 L86.59,37.47 L86.79,36.71 L87.00,35.94 L87.22,35.18 L87.44,34.41 L87.68,33.65 L87.92,32.89 L88.17,32.13 L88.43,31.37 L88.70,30.61 L88.99,29.85 L89.28,29.10 L89.58,28.35 L89.89,27.61 L90.22,26.88 L90.56,26.16 L90.92,25.45 L91.29,24.75 L91.67,24.07 L92.07,23.41 L92.49,22.76 L92.93,22.13 L93.38,21.53 L93.85,20.94 L94.34,20.38 L94.84,19.85 L95.35,19.33 L95.88,18.85 L96.42,18.39 L96.97,17.97 L97.53,17.57 L98.10,17.21 L98.68,16.88 L99.27,16.58 L99.87,16.32 L100.48,16.09 L101.09,15.90 L101.71,15.75 L102.34,15.65 L102.97,15.58 L103.60,15.55 L104.23,15.57 L104.87,15.63 L105.51,15.73 L106.16,15.86 L106.80,16.03 L107.44,16.23 L108.09,16.46 L108.73,16.72 L109.38,17.01 L110.02,17.31 L110.66,17.65 L111.29,18.00 L111.93,18.37 L112.56,18.75 L113.18,19.15 L113.80,19.56 L114.42,19.98 L115.03,20.41 L115.64,20.84 L116.24,21.28 L116.83,21.72 L117.42,22.17 L118.00,22.63 L118.58,23.09 L119.15,23.56 L119.72,24.04 L120.28,24.52 L120.84,25.00 L121.39,25.49 L121.94,25.98 L122.48,26.48 L123.02,26.99 L123.55,27.49 L124.09,28.01 L124.61,28.52 L125.14,29.04 L125.65,29.57 L126.17,30.10 L126.68,30.63 L127.19,31.17 L127.70,31.71 L128.20,32.25 L128.70,32.80 L129.20,33.35 L129.69,33.90 L130.18,34.46 L130.67,35.01 L131.15,35.57 L131.64,36.14 L132.12,36.70 L132.60,37.27 L133.08,37.84 L133.55,38.42 L134.02,38.99 L134.50,39.57 L134.97,40.14 L135.44,40.72 L135.90,41.30 L136.37,41.88 L136.84,42.47 L137.30,43.05 L137.76,43.64 L138.23,44.22 L138.69,44.81 L139.15,45.40 L139.61,45.98 L140.08,46.57 L140.54,47.16 L141.00,47.74 L141.46,48.33 L141.92,48.92 L142.38,49.51 L142.85,50.09 L143.31,50.68 L143.77,51.26 L144.24,51.85 L144.70,52.43 L145.17,53.01 L145.64,53.59 L146.11,54.17 L146.58,54.75 L147.05,55.33 L147.52,55.90 L147.99,56.48 L148.46,57.05 L148.94,57.63 L149.41,58.20 L149.89,58.77 L150.37,59.34 L150.85,59.91 L151.32,60.48 L151.80,61.05 L152.28,61.62 L152.76,62.18 L153.25,62.75 L153.73,63.31 L154.21,63.88 L154.70,64.44 L155.18,65.00 L155.67,65.57 L156.15,66.13 L156.64,66.69 L157.13,67.25 L157.61,67.81 L158.10,68.37 L158.59,68.92 L159.08,69.48 L159.57,70.04 L160.06,70.60 L160.55,71.15 L161.04,71.71 L161.53,72.26 L162.03,72.82 L162.52,73.37 L163.01,73.93 L163.51,74.48 L164.00,75.03 L164.49,75.58 L164.99,76.14 L165.48,76.69 L165.98,77.24 L166.47,77.79 L166.97,78.34 L167.46,78.89 L167.96,79.44 L168.46,79.99 L168.95,80.54 L169.45,81.09 L169.95,81.64 L170.44,82.19 L170.94,82.74 L171.44,83.29 L171.94,83.84 L172.43,84.39 L172.93,84.94 L173.43,85.49 L173.92,86.04 L174.42,86.59 L174.92,87.14 L175.42,87.69 L175.91,88.23 L176.41,88.78 L176.91,89.33 L177.41,89.88 L177.90,90.43 L178.40,90.98 L178.90,91.53 L179.39,92.08 L179.89,92.63 L180.39,93.18 L180.88,93.74 L181.38,94.29 L181.87,94.84 L182.37,95.39 L182.86,95.94 L183.36,96.49 L183.85,97.05 L184.35,97.60 L184.84,98.15 L185.33,98.71 L185.82,99.26 L186.32,99.82 L186.81,100.37 L187.30,100.93 L187.79,101.49 L188.28,102.04 L188.77,102.60" stroke="#000"/>
<path d="M279.74,174.30 L280.02,174.42 L280.31,174.53 L280.60,174.65 L280.88,174.77 L281.17,174.88 L281.46,175.00 L281.75,175.12 L282.04,175.23 L282.33,175.35 L282.62,175.46 L282.91,175.58 L283.20,175.69 L283.49,175.81 L283.78,175.92 L284.07,176.04 L284.36,176.15 L284.66,176.27 L284.95,176.38 L285.24,176.49 L285.53,176.61 L285.83,176.72 L286.12,176.83 L286.42,176.94 L286.71,177.06 L287.01,177.17 L287.30,177.28 L287.60,177.39 L287.90,177.50 L288.19,177.61 L288.49,177.72 L288.79,177.82 L289.08,177.93 L289.38,178.04 L289.68,178.15 L289.98,178.25 L290.28,178.36 L290.58,178.46 L290.88,178.57 L291.18,178.67 L291.48,178.78 L291.78,178.88 L292.08,178.98 L292.38,179.08 L292.68,179.18 L292.98,179.28 L293.28,179.38 L293.58,179.48 L293.89,179.58 L294.19,179.68 L294.49,179.77 L294.79,179.87 L295.10,179.96 L295.40,180.06 L295.70,180.15 L296.01,180.24 L296.31,180.33 L296.62,180.43 L296.92,180.51 L297.23,180.60 L297.53,180.69 L297.84,180.78 L298.14,180.87 L298.45,180.95 L298.75,181.03 L299.06,181.12 L299.37,181.20 L299.67,181.28 L299.98,181.36 L300.29,181.44 L300.59,181.52 L300.90,181.60 L301.21,181.67 L301.52,181.75 L301.83,181.82 L302.13,181.89 L302.44,181.96 L302.75,182.04 L303.06,182.10 L303.37,182.17 L303.68,182.24 L303.99,182.30 L304.29,182.37 L304.60,182.43 L304.91,182.49 L305.22,182.55 L305.53,182.61 L305.84,182.67 L306.15,182.73 L306.46,182.78 L306.77,182.84 L307.08,182.89 L307.39,182.94 L307.71,182.99 L308.02,183.04 L308.33,183.09 L308.64,183.13 L308.95,183.18 L309.26,183.22 L309.57,183.26 L309.88,183.30 L310.19,183.34 L310.51,183.38 L310.82,183.41 L311.13,183.45 L311.44,183.48 L311.75,183.51 L312.06,183.54 L312.38,183.57 L312.69,183.59 L313.00,183.62 L313.31,183.64 L313.62,183.66 L313.94,183.68 L314.25,183.70 L314.56,183.71 L314.87,183.73 L315.19,183.74 L315.50,183.75 L315.81,183.76 L316.12,183.77 L316.44,183.77 L316.75,183.78 L317.06,183.78 L317.37,183.78 L317.69,183.78 L318.00,183.77 L318.31,183.77 L318.62,183.76 L318.94,183.75 L319.25,183.74 L319.56,183.73 L319.87,183.71 L320.18,183.69 L320.50,183.67 L320.81,183.65 L321.12,183.63 L321.43,183.61 L321.74,183.58 L322.06,183.55 L322.37,183.52 L322.68,183.48 L322.99,183.45 L323.30,183.41 L323.61,183.37 L323.92,183.33 L324.23,183.29 L324.54,183.24 L324.85,183.19 L325.16,183.14 L325.46,183.09 L325.77,183.03 L326.08,182.98 L326.39,182.92 L326.69,182.86 L327.00,182.79 L327.30,182.72 L327.61,182.66 L327.91,182.59 L328.22,182.51 L328.52,182.44 L328.82,182.36 L329.12,182.28 L329.42,182.19 L329.72,182.11 L330.02,182.02 L330.32,181.93 L330.62,181.84 L330.92,181.74 L331.21,181.65 L331.51,181.55 L331.80,181.44 L332.10,181.34 L332.39,181.23 L332.68,181.12 L332.97,181.01 L333.27,180.89 L333.55,180.77 L333.84,180.65 L334.13,180.53 L334.42,180.40 L334.70,180.27 L334.99,180.14 L335.27,180.01 L335.55,179.87 L335.83,179.73 L336.11,179.59 L336.39,179.44 L336.67,179.29 L336.95,179.14 L337.22,178.99 L337.50,178.83 L337.77,178.67 L338.04,178.51 L338.31,178.35 L338.58,178.18 L338.85,178.01 L339.11,177.83 L339.38,177.66 L339.64,177.48 L339.90,177.29 L340.16,177.11 L340.42,176.92 L340.68,176.73 L340.94,176.53 L341.19,176.33 L341.45,176.13 L341.70,175.93 L341.95,175.72 L342.20,175.51 L342.44,175.30 L342.69,175.09 L342.93,174.87 L343.18,174.65 L343.42,174.43 L343.66,174.20 L343.90,173.97 L344.13,173.74 L344.37,173.51 L344.60,173.27 L344.83,173.03 L345.07,172.79 L345.30,172.55 L345.52,172.31 L345.75,172.06 L345.98,171.81 L346.20,171.56 L346.42,171.30 L346.64,171.05 L346.86,170.79 L347.08,170.53 L347.30,170.27 L347.51,170.00 L347.73,169.74 L347.94,169.47 L348.15,169.20 L348.36,168.93 L348.57,168.65 L348.77,168.38 L348.98,168.10 L349.18,167.82 L349.38,167.54 L349.58,167.26 L349.78,166.98 L349.98,166.69 L350.18,166.41 L350.37,166.12 L350.57,165.83 L350.76,165.54 L350.95,165.25 L351.14,164.96 L351.33,164.67 L351.52,164.37 L351.70,164.07 L351.89,163.78 L352.07,163.48 L352.25,163.18 L352.43,162.88 L352.61,162.58 L352.79,162.28 L352.96,161.97 L353.14,161.67 L353.31,161.37 L353.48,161.06 L353.65,160.76 L353.82,160.45 L353.99,160.14 L354.16,159.83 L354.32,159.53 L354.49,159.22 L354.65,158.91 L354.81,158.60 L354.97,158.29 L355.13,157.98 L355.28,157.67 L355.44,157.36 L355.59,157.04 L355.75,156.73 L355.90,156.42 L356.05,156.11 L356.20,155.79 L356.35,155.48 L356.49,155.16 L356.64,154.85 L356.78,154.53 L356.92,154.22 L357.06,153.90 L357.20,153.58 L357.34,153.27 L357.48,152.95 L357.61,152.63 L357.74,152.31 L357.88,151.99 L358.01,151.67 L358.14,151.35 L358.26,151.03 L358.39,150.71 L358.52,150.38 L358.64,150.06 L358.76,149.74 L358.88,149.41 L359.00,149.09 L359.12,148.76 L359.24,148.44 L359.35,148.11 L359.47,147.78 L359.58,147.45 L359.69,147.13 L359.80,146.80 L359.91,146.47 L360.02,146.14 L360.12,145.81 L360.23,145.48 L360.33,145.15 L360.44,144.81 L360.54,144.48 L360.64,144.15 L360.74,143.82 L360.84,143.48 L360.94,143.15 L361.03,142.81 L361.13,142.48 L361.22,142.14 L361.32,141.81 L361.41,141.47 L361.50,141.13 L361.60,140.80 L361.69,140.46 L361.78,140.12 L361.87,139.78 L361.95,139.44 L362.04,139.11 L362.13,138.77 L362.21,138.43 L362.30,138.09 L362.38,137.75 L362.47,137.41 L362.55,137.07 L362.63,136.72 L362.72,136.38 L362.80,136.04 L362.88,135.70 L362.96,135.36 L363.04,135.01 L363.12,134.67 L363.20,134.33 L363.28,133.99 L363.36,133.64 L363.44,133.30 L363.51,132.96 L363.59,132.61 L363.67,132.27 L363.74,131.92 L363.82,131.58 L363.90,131.23 L363.97,130.89 L364.05,130.55 L364.12,130.20 L364.20,129.86 L364.28,129.51 L364.35,129.16 L364.43,128.82 L364.50,128.47 L364.58,128.13 L364.65,127.78 L364.72,127.44 L364.80,127.09 L364.87,126.75 L364.95,126.40 L365.02,126.05 L365.10,125.71 L365.17,125.36 L365.25,125.02 L365.33,124.67 L365.40,124.32 L365.48,123.98 L365.55,123.63 L365.63,123.29 L365.71,122.94 L365.78,122.59 L365.86,122.25 L365.94,121.90 L366.02,121.56 L366.09,121.21 L366.17,120.87 L366.25,120.52 L366.33,120.18 L366.41,119.83 L366.49,119.49 L366.57,119.14 L366.65,118.80 L366.73,118.45 L366.82,118.11 L366.90,117.76 L366.98,117.42 L367.07,117.07 L367.15,116.73 L367.24,116.39 L367.33,116.04 L367.41,115.70" stroke="#ff8000"/>
<path d="M279.74,168.00 L280.00,168.14 L280.26,168.29 L280.52,168.43 L280.79,168.58 L281.05,168.72 L281.32,168.87 L281.59,169.01 L281.85,169.16 L282.12,169.30 L282.39,169.44 L282.66,169.59 L282.93,169.73 L283.20,169.87 L283.47,170.02 L283.74,170.16 L284.02,170.30 L284.29,170.44 L284.56,170.58 L284.84,170.72 L285.11,170.87 L285.39,171.01 L285.67,171.15 L285.94,171.29 L286.22,171.43 L286.50,171.56 L286.78,171.70 L287.06,171.84 L287.34,171.98 L287.62,172.11 L287.90,172.25 L288.19,172.39 L288.47,172.52 L288.75,172.66 L289.04,172.79 L289.32,172.92 L289.61,173.06 L289.89,173.19 L290.18,173.32 L290.47,173.45 L290.75,173.58 L291.04,173.71 L291.33,173.84 L291.62,173.97 L291.91,174.10 L292.20,174.22 L292.49,174.35 L292.78,174.47 L293.07,174.60 L293.36,174.72 L293.65,174.84 L293.95,174.97 L294.24,175.09 L294.53,175.21 L294.83,175.33 L295.12,175.44 L295.42,175.56 L295.71,175.68 L296.01,175.79 L296.30,175.91 L296.60,176.02 L296.90,176.13 L297.20,176.24 L297.49,176.35 L297.79,176.46 L298.09,176.57 L298.39,176.68 L298.69,176.78 L298.99,176.89 L299.29,176.99 L299.59,177.09 L299.89,177.19 L300.19,177.29 L300.49,177.39 L300.79,177.49 L301.09,177.58 L301.40,177.68 L301.70,177.77 L302.00,177.86 L302.30,177.95 L302.61,178.04 L302.91,178.13 L303.22,178.22 L303.52,178.30 L303.82,178.39 L304.13,178.47 L304.43,178.55 L304.74,178.63 L305.04,178.71 L305.35,178.78 L305.65,178.86 L305.96,178.93 L306.27,179.00 L306.57,179.08 L306.88,179.14 L307.19,179.21 L307.49,179.28 L307.80,179.34 L308.11,179.40 L308.41,179.46 L308.72,179.52 L309.03,179.58 L309.34,179.64 L309.64,179.69 L309.95,179.74 L310.26,179.79 L310.57,179.84 L310.88,179.89 L311.18,179.93 L311.49,179.98 L311.80,180.02 L312.11,180.06 L312.42,180.10 L312.73,180.13 L313.04,180.16 L313.34,180.20 L313.65,180.23 L313.96,180.25 L314.27,180.28 L314.58,180.31 L314.89,180.33 L315.20,180.35 L315.51,180.37 L315.82,180.38 L316.12,180.40 L316.43,180.41 L316.74,180.42 L317.05,180.42 L317.36,180.43 L317.67,180.43 L317.98,180.43 L318.29,180.43 L318.59,180.43 L318.90,180.43 L319.21,180.42 L319.52,180.41 L319.83,180.40 L320.14,180.38 L320.44,180.36 L320.75,180.35 L321.06,180.32 L321.37,180.30 L321.67,180.28 L321.98,180.25 L322.29,180.22 L322.59,180.18 L322.90,180.15 L323.21,180.11 L323.51,180.07 L323.82,180.03 L324.12,179.99 L324.43,179.94 L324.73,179.89 L325.04,179.84 L325.34,179.79 L325.64,179.73 L325.95,179.68 L326.25,179.62 L326.55,179.55 L326.85,179.49 L327.15,179.42 L327.45,179.35 L327.75,179.28 L328.05,179.21 L328.35,179.13 L328.65,179.05 L328.95,178.97 L329.24,178.89 L329.54,178.81 L329.83,178.72 L330.13,178.63 L330.42,178.54 L330.72,178.44 L331.01,178.34 L331.30,178.24 L331.59,178.14 L331.88,178.04 L332.17,177.93 L332.46,177.82 L332.75,177.71 L333.03,177.60 L333.32,177.48 L333.61,177.36 L333.89,177.24 L334.17,177.12 L334.46,177.00 L334.74,176.87 L335.02,176.74 L335.30,176.61 L335.58,176.47 L335.86,176.33 L336.13,176.19 L336.41,176.05 L336.68,175.91 L336.96,175.76 L337.23,175.61 L337.50,175.46 L337.77,175.31 L338.04,175.15 L338.31,174.99 L338.57,174.83 L338.84,174.67 L339.10,174.50 L339.36,174.33 L339.63,174.16 L339.89,173.99 L340.15,173.82 L340.40,173.64 L340.66,173.46 L340.91,173.27 L341.17,173.09 L341.42,172.90 L341.67,172.71 L341.92,172.52 L342.17,172.33 L342.42,172.13 L342.66,171.93 L342.91,171.73 L343.15,171.53 L343.39,171.32 L343.63,171.11 L343.87,170.90 L344.11,170.69 L344.35,170.48 L344.58,170.26 L344.82,170.04 L345.05,169.82 L345.28,169.60 L345.51,169.37 L345.74,169.15 L345.97,168.92 L346.19,168.69 L346.42,168.46 L346.64,168.22 L346.86,167.99 L347.08,167.75 L347.30,167.51 L347.52,167.26 L347.73,167.02 L347.95,166.77 L348.16,166.53 L348.37,166.28 L348.58,166.03 L348.79,165.77 L349.00,165.52 L349.21,165.26 L349.41,165.00 L349.62,164.74 L349.82,164.48 L350.02,164.22 L350.22,163.95 L350.42,163.69 L350.61,163.42 L350.81,163.15 L351.00,162.88 L351.20,162.60 L351.39,162.33 L351.58,162.05 L351.76,161.78 L351.95,161.50 L352.14,161.22 L352.32,160.93 L352.50,160.65 L352.68,160.37 L352.86,160.08 L353.04,159.79 L353.22,159.50 L353.39,159.21 L353.57,158.92 L353.74,158.63 L353.91,158.34 L354.08,158.04 L354.25,157.74 L354.42,157.45 L354.58,157.15 L354.74,156.85 L354.91,156.54 L355.07,156.24 L355.23,155.94 L355.39,155.63 L355.54,155.33 L355.70,155.02 L355.85,154.71 L356.00,154.40 L356.15,154.09 L356.30,153.78 L356.45,153.47 L356.60,153.15 L356.74,152.84 L356.88,152.52 L357.03,152.21 L357.17,151.89 L357.30,151.57 L357.44,151.25 L357.58,150.94 L357.71,150.61 L357.85,150.29 L357.98,149.97 L358.11,149.65 L358.23,149.32 L358.36,149.00 L358.49,148.67 L358.61,148.35 L358.73,148.02 L358.85,147.69 L358.97,147.37 L359.09,147.04 L359.21,146.71 L359.33,146.38 L359.44,146.05 L359.55,145.72 L359.66,145.39 L359.78,145.05 L359.89,144.72 L359.99,144.39 L360.10,144.05 L360.21,143.72 L360.31,143.38 L360.41,143.05 L360.52,142.71 L360.62,142.38 L360.72,142.04 L360.82,141.70 L360.92,141.36 L361.01,141.03 L361.11,140.69 L361.21,140.35 L361.30,140.01 L361.39,139.67 L361.49,139.33 L361.58,138.99 L361.67,138.65 L361.76,138.31 L361.85,137.97 L361.94,137.63 L362.02,137.29 L362.11,136.95 L362.20,136.61 L362.28,136.26 L362.37,135.92 L362.45,135.58 L362.53,135.24 L362.61,134.90 L362.70,134.55 L362.78,134.21 L362.86,133.87 L362.94,133.53 L363.02,133.18 L363.10,132.84 L363.17,132.50 L363.25,132.16 L363.33,131.81 L363.41,131.47 L363.48,131.13 L363.56,130.79 L363.63,130.44 L363.71,130.10 L363.78,129.76 L363.86,129.42 L363.93,129.07 L364.01,128.73 L364.08,128.39 L364.15,128.05 L364.23,127.71 L364.30,127.37 L364.37,127.03 L364.44,126.69 L364.52,126.35 L364.59,126.01 L364.66,125.67 L364.73,125.33 L364.80,124.99 L364.87,124.65 L364.95,124.31 L365.02,123.98 L365.09,123.64 L365.16,123.30 L365.23,122.97 L365.30,122.63 L365.37,122.29 L365.45,121.96 L365.52,121.62 L365.59,121.29 L365.66,120.96 L365.73,120.62 L365.80,120.29 L365.88,119.96 L365.95,119.63 L366.02,119.30 L366.09,118.97 L366.17,118.64 L366.24,118.31 L366.32,117.98 L366.39,117.65 L366.46,117.32 L366.54,117.00 L366.61,116.67 L366.69,116.35 L366.77,116.02 L366.84,115.70" stroke="#0000ff"/>
<path d="M279.74,175.40 L280.04,175.55 L280.34,175.70 L280.65,175.85 L280.95,176.00 L281.26,176.15 L281.56,176.30 L281.87,176.45 L282.17,176.60 L282.48,176.76 L282.79,176.91 L283.09,177.07 L283.40,177.22 L283.71,177.38 L284.01,177.54 L284.32,177.69 L284.63,177.85 L284.94,178.01 L285.25,178.17 L285.56,178.33 L285.87,178.49 L286.18,178.65 L286.49,178.81 L286.80,178.97 L287.11,179.13 L287.42,179.29 L287.74,179.45 L288.05,179.62 L288.36,179.78 L288.68,179.94 L288.99,180.10 L289.30,180.26 L289.62,180.43 L289.93,180.59 L290.25,180.75 L290.56,180.91 L290.88,181.07 L291.19,181.24 L291.51,181.40 L291.83,181.56 L292.14,181.72 L292.46,181.88 L292.78,182.04 L293.10,182.21 L293.41,182.37 L293.73,182.53 L294.05,182.69 L294.37,182.85 L294.69,183.01 L295.01,183.17 L295.33,183.32 L295.65,183.48 L295.97,183.64 L296.29,183.80 L296.62,183.95 L296.94,184.11 L297.26,184.26 L297.58,184.42 L297.91,184.57 L298.23,184.73 L298.55,184.88 L298.88,185.03 L299.20,185.18 L299.53,185.33 L299.85,185.48 L300.18,185.63 L300.50,185.78 L300.83,185.93 L301.15,186.07 L301.48,186.22 L301.81,186.36 L302.13,186.51 L302.46,186.65 L302.79,186.79 L303.12,186.93 L303.44,187.07 L303.77,187.21 L304.10,187.34 L304.43,187.48 L304.76,187.61 L305.09,187.75 L305.42,187.88 L305.75,188.01 L306.08,188.14 L306.41,188.27 L306.74,188.39 L307.08,188.52 L307.41,188.64 L307.74,188.76 L308.07,188.88 L308.41,189.00 L308.74,189.12 L309.07,189.24 L309.41,189.35 L309.74,189.46 L310.07,189.58 L310.41,189.69 L310.74,189.79 L311.08,189.90 L311.41,190.00 L311.75,190.11 L312.09,190.21 L312.42,190.31 L312.76,190.40 L313.10,190.50 L313.43,190.59 L313.77,190.68 L314.11,190.77 L314.45,190.86 L314.78,190.94 L315.12,191.03 L315.46,191.11 L315.80,191.19 L316.14,191.26 L316.48,191.34 L316.82,191.41 L317.16,191.48 L317.50,191.55 L317.84,191.61 L318.18,191.68 L318.52,191.74 L318.87,191.80 L319.21,191.85 L319.55,191.91 L319.89,191.96 L320.24,192.01 L320.58,192.05 L320.92,192.10 L321.27,192.14 L321.61,192.18 L321.95,192.21 L322.30,192.25 L322.64,192.28 L322.99,192.31 L323.33,192.33 L323.68,192.35 L324.02,192.37 L324.37,192.39 L324.72,192.40 L325.06,192.42 L325.41,192.42 L325.76,192.43 L326.10,192.43 L326.45,192.43 L326.80,192.43 L327.15,192.42 L327.49,192.41 L327.84,192.40 L328.19,192.39 L328.54,192.37 L328.88,192.35 L329.23,192.32 L329.58,192.29 L329.92,192.26 L330.27,192.23 L330.62,192.19 L330.96,192.15 L331.31,192.10 L331.65,192.05 L331.99,192.00 L332.34,191.94 L332.68,191.89 L333.02,191.82 L333.36,191.76 L333.70,191.69 L334.04,191.61 L334.38,191.54 L334.71,191.46 L335.05,191.37 L335.38,191.28 L335.72,191.19 L336.05,191.09 L336.38,190.99 L336.71,190.89 L337.04,190.78 L337.36,190.67 L337.69,190.56 L338.01,190.44 L338.33,190.31 L338.65,190.18 L338.97,190.05 L339.29,189.91 L339.60,189.77 L339.91,189.63 L340.22,189.48 L340.53,189.33 L340.84,189.17 L341.14,189.01 L341.44,188.84 L341.74,188.67 L342.04,188.50 L342.34,188.32 L342.63,188.13 L342.92,187.95 L343.21,187.76 L343.50,187.56 L343.79,187.36 L344.07,187.16 L344.35,186.96 L344.63,186.75 L344.91,186.53 L345.19,186.31 L345.46,186.09 L345.73,185.87 L346.00,185.64 L346.27,185.41 L346.53,185.17 L346.80,184.94 L347.06,184.69 L347.32,184.45 L347.58,184.20 L347.83,183.95 L348.09,183.69 L348.34,183.44 L348.59,183.18 L348.84,182.91 L349.08,182.64 L349.33,182.37 L349.57,182.10 L349.81,181.82 L350.05,181.55 L350.28,181.26 L350.52,180.98 L350.75,180.69 L350.98,180.40 L351.21,180.11 L351.43,179.82 L351.66,179.52 L351.88,179.22 L352.10,178.92 L352.32,178.61 L352.54,178.30 L352.75,177.99 L352.97,177.68 L353.18,177.37 L353.39,177.05 L353.59,176.73 L353.80,176.41 L354.00,176.09 L354.21,175.76 L354.41,175.44 L354.60,175.11 L354.80,174.78 L354.99,174.45 L355.19,174.11 L355.38,173.78 L355.57,173.44 L355.75,173.10 L355.94,172.76 L356.12,172.41 L356.30,172.07 L356.48,171.72 L356.66,171.38 L356.84,171.03 L357.01,170.68 L357.18,170.33 L357.35,169.97 L357.52,169.62 L357.69,169.27 L357.85,168.91 L358.02,168.55 L358.18,168.19 L358.34,167.83 L358.50,167.47 L358.65,167.11 L358.81,166.75 L358.96,166.39 L359.11,166.02 L359.26,165.66 L359.41,165.29 L359.55,164.93 L359.70,164.56 L359.84,164.19 L359.98,163.82 L360.12,163.46 L360.26,163.09 L360.39,162.72 L360.53,162.35 L360.66,161.98 L360.79,161.61 L360.92,161.24 L361.04,160.87 L361.17,160.50 L361.29,160.12 L361.41,159.75 L361.53,159.38 L361.65,159.01 L361.77,158.64 L361.88,158.26 L362.00,157.89 L362.11,157.52 L362.22,157.14 L362.33,156.77 L362.44,156.39 L362.54,156.02 L362.65,155.64 L362.75,155.27 L362.85,154.89 L362.96,154.52 L363.06,154.14 L363.15,153.77 L363.25,153.39 L363.35,153.01 L363.44,152.64 L363.53,152.26 L363.63,151.88 L363.72,151.50 L363.81,151.13 L363.90,150.75 L363.98,150.37 L364.07,149.99 L364.15,149.61 L364.24,149.23 L364.32,148.86 L364.40,148.48 L364.49,148.10 L364.57,147.72 L364.64,147.34 L364.72,146.96 L364.80,146.58 L364.88,146.20 L364.95,145.82 L365.03,145.43 L365.10,145.05 L365.17,144.67 L365.24,144.29 L365.31,143.91 L365.38,143.53 L365.45,143.14 L365.52,142.76 L365.59,142.38 L365.66,142.00 L365.73,141.61 L365.79,141.23 L365.86,140.85 L365.92,140.46 L365.99,140.08 L366.05,139.70 L366.11,139.31 L366.17,138.93 L366.24,138.55 L366.30,138.16 L366.36,137.78 L366.42,137.39 L366.48,137.01 L366.54,136.62 L366.60,136.24 L366.66,135.85 L366.71,135.47 L366.77,135.08 L366.83,134.70 L366.89,134.31 L366.94,133.93 L367.00,133.54 L367.06,133.15 L367.11,132.77 L367.17,132.38 L367.23,132.00 L367.28,131.61 L367.34,131.22 L367.39,130.84 L367.45,130.45 L367.50,130.06 L367.56,129.68 L367.61,129.29 L367.67,128.90 L367.72,128.51 L367.78,128.13 L367.83,127.74 L367.89,127.35 L367.94,126.96 L368.00,126.58 L368.05,126.19 L368.11,125.80 L368.16,125.41 L368.22,125.03 L368.27,124.64 L368.33,124.25 L368.39,123.86 L368.44,123.47 L368.50,123.08 L368.56,122.70 L368.61,122.31 L368.67,121.92 L368.73,121.53 L368.79,121.14 L368.85,120.75 L368.90,120.37 L368.96,119.98 L369.02,119.59 L369.08,119.20 L369.14,118.81 L369.21,118.42 L369.27,118.03 L369.33,117.64 L369.39,117.26 L369.46,116.87 L369.52,116.48 L369.58,116.09 L369.65,115.70" stroke="#00ff00"/>
<path d="M279.74,171.80 L280.02,171.92 L280.30,172.05 L280.58,172.17 L280.86,172.30 L281.15,172.42 L281.43,172.55 L281.71,172.67 L282.00,172.79 L282.28,172.92 L282.57,173.04 L282.85,173.17 L283.14,173.29 L283.42,173.41 L283.71,173.54 L284.00,173.66 L284.28,173.78 L284.57,173.90 L284.86,174.03 L285.15,174.15 L285.44,174.27 L285.73,174.39 L286.02,174.51 L286.31,174.63 L286.60,174.75 L286.89,174.87 L287.18,174.99 L287.47,175.11 L287.76,175.23 L288.05,175.35 L288.34,175.46 L288.64,175.58 L288.93,175.70 L289.22,175.81 L289.52,175.93 L289.81,176.04 L290.10,176.16 L290.40,176.27 L290.69,176.39 L290.99,176.50 L291.28,176.61 L291.58,176.72 L291.88,176.83 L292.17,176.94 L292.47,177.05 L292.77,177.16 L293.06,177.27 L293.36,177.38 L293.66,177.49 L293.96,177.59 L294.25,177.70 L294.55,177.80 L294.85,177.91 L295.15,178.01 L295.45,178.11 L295.75,178.21 L296.05,178.32 L296.35,178.42 L296.65,178.51 L296.95,178.61 L297.25,178.71 L297.55,178.81 L297.85,178.90 L298.16,179.00 L298.46,179.09 L298.76,179.18 L299.06,179.27 L299.36,179.36 L299.67,179.45 L299.97,179.54 L300.27,179.63 L300.58,179.72 L300.88,179.80 L301.18,179.89 L301.49,179.97 L301.79,180.05 L302.10,180.13 L302.40,180.21 L302.71,180.29 L303.01,180.37 L303.32,180.45 L303.62,180.52 L303.93,180.59 L304.23,180.67 L304.54,180.74 L304.85,180.81 L305.15,180.88 L305.46,180.94 L305.76,181.01 L306.07,181.08 L306.38,181.14 L306.69,181.20 L306.99,181.26 L307.30,181.32 L307.61,181.38 L307.91,181.44 L308.22,181.49 L308.53,181.54 L308.84,181.60 L309.15,181.65 L309.45,181.70 L309.76,181.74 L310.07,181.79 L310.38,181.84 L310.69,181.88 L311.00,181.92 L311.31,181.96 L311.62,182.00 L311.92,182.04 L312.23,182.07 L312.54,182.10 L312.85,182.14 L313.16,182.17 L313.47,182.20 L313.78,182.22 L314.09,182.25 L314.40,182.27 L314.71,182.29 L315.02,182.31 L315.33,182.33 L315.64,182.35 L315.95,182.36 L316.26,182.37 L316.57,182.39 L316.88,182.39 L317.19,182.40 L317.50,182.41 L317.81,182.41 L318.12,182.41 L318.43,182.41 L318.74,182.41 L319.05,182.40 L319.36,182.40 L319.67,182.39 L319.98,182.38 L320.29,182.37 L320.60,182.35 L320.91,182.34 L321.22,182.32 L321.53,182.30 L321.84,182.28 L322.15,182.25 L322.46,182.22 L322.77,182.20 L323.08,182.16 L323.39,182.13 L323.70,182.10 L324.01,182.06 L324.31,182.02 L324.62,181.98 L324.93,181.93 L325.23,181.88 L325.54,181.84 L325.85,181.78 L326.15,181.73 L326.46,181.68 L326.76,181.62 L327.06,181.56 L327.37,181.49 L327.67,181.43 L327.97,181.36 L328.27,181.29 L328.57,181.22 L328.88,181.14 L329.18,181.07 L329.47,180.99 L329.77,180.91 L330.07,180.82 L330.37,180.73 L330.66,180.64 L330.96,180.55 L331.25,180.46 L331.55,180.36 L331.84,180.26 L332.13,180.16 L332.42,180.05 L332.71,179.94 L333.00,179.83 L333.29,179.72 L333.58,179.60 L333.87,179.48 L334.15,179.36 L334.44,179.24 L334.72,179.11 L335.01,178.98 L335.29,178.85 L335.57,178.72 L335.85,178.58 L336.13,178.44 L336.40,178.29 L336.68,178.15 L336.95,178.00 L337.23,177.85 L337.50,177.69 L337.77,177.53 L338.04,177.37 L338.31,177.21 L338.58,177.04 L338.84,176.87 L339.11,176.70 L339.37,176.52 L339.64,176.34 L339.90,176.16 L340.16,175.98 L340.41,175.79 L340.67,175.60 L340.92,175.40 L341.18,175.21 L341.43,175.01 L341.68,174.80 L341.93,174.60 L342.18,174.39 L342.42,174.18 L342.67,173.97 L342.91,173.75 L343.16,173.53 L343.40,173.31 L343.63,173.08 L343.87,172.85 L344.11,172.63 L344.34,172.39 L344.58,172.16 L344.81,171.92 L345.04,171.68 L345.27,171.44 L345.50,171.20 L345.72,170.95 L345.95,170.70 L346.17,170.45 L346.39,170.20 L346.61,169.94 L346.83,169.69 L347.05,169.43 L347.27,169.17 L347.48,168.91 L347.70,168.64 L347.91,168.38 L348.12,168.11 L348.33,167.84 L348.54,167.57 L348.74,167.29 L348.95,167.02 L349.15,166.74 L349.36,166.47 L349.56,166.19 L349.76,165.91 L349.96,165.62 L350.15,165.34 L350.35,165.06 L350.54,164.77 L350.73,164.48 L350.93,164.19 L351.12,163.90 L351.31,163.61 L351.49,163.32 L351.68,163.03 L351.86,162.74 L352.05,162.44 L352.23,162.15 L352.41,161.85 L352.59,161.55 L352.76,161.25 L352.94,160.95 L353.12,160.65 L353.29,160.35 L353.46,160.05 L353.63,159.75 L353.80,159.45 L353.97,159.15 L354.14,158.84 L354.30,158.54 L354.47,158.24 L354.63,157.93 L354.79,157.63 L354.95,157.32 L355.11,157.02 L355.27,156.71 L355.42,156.40 L355.58,156.10 L355.73,155.79 L355.88,155.48 L356.03,155.17 L356.18,154.86 L356.33,154.55 L356.47,154.24 L356.62,153.93 L356.76,153.62 L356.90,153.31 L357.04,153.00 L357.18,152.69 L357.32,152.37 L357.45,152.06 L357.59,151.74 L357.72,151.43 L357.85,151.11 L357.98,150.79 L358.11,150.48 L358.23,150.16 L358.36,149.84 L358.48,149.52 L358.61,149.20 L358.73,148.88 L358.84,148.56 L358.96,148.23 L359.08,147.91 L359.19,147.59 L359.31,147.26 L359.42,146.94 L359.53,146.61 L359.64,146.28 L359.75,145.96 L359.85,145.63 L359.96,145.30 L360.06,144.97 L360.16,144.64 L360.27,144.31 L360.37,143.98 L360.47,143.65 L360.57,143.32 L360.66,142.99 L360.76,142.65 L360.85,142.32 L360.95,141.99 L361.04,141.65 L361.13,141.32 L361.23,140.98 L361.32,140.65 L361.41,140.31 L361.50,139.98 L361.58,139.64 L361.67,139.30 L361.76,138.96 L361.84,138.63 L361.93,138.29 L362.01,137.95 L362.10,137.61 L362.18,137.27 L362.26,136.93 L362.34,136.59 L362.42,136.25 L362.50,135.91 L362.58,135.57 L362.66,135.23 L362.74,134.89 L362.82,134.55 L362.90,134.20 L362.98,133.86 L363.05,133.52 L363.13,133.18 L363.21,132.83 L363.28,132.49 L363.36,132.15 L363.43,131.80 L363.51,131.46 L363.59,131.12 L363.66,130.77 L363.73,130.43 L363.81,130.09 L363.88,129.74 L363.96,129.40 L364.03,129.05 L364.11,128.71 L364.18,128.37 L364.25,128.02 L364.33,127.68 L364.40,127.33 L364.48,126.99 L364.55,126.65 L364.62,126.30 L364.70,125.96 L364.77,125.61 L364.85,125.27 L364.92,124.93 L365.00,124.58 L365.07,124.24 L365.15,123.89 L365.23,123.55 L365.30,123.21 L365.38,122.86 L365.45,122.52 L365.53,122.18 L365.61,121.83 L365.69,121.49 L365.77,121.15 L365.85,120.81 L365.93,120.46 L366.01,120.12 L366.09,119.78 L366.17,119.44 L366.25,119.10 L366.33,118.76 L366.41,118.42 L366.50,118.07 L366.58,117.73 L366.67,117.39 L366.75,117.05 L366.84,116.72 L366.93,116.38 L367.02,116.04 L367.11,115.70" stroke="#000"/>
</g>
<g stroke="#000" stroke-width="2.3">
<line x1="74.20" y1="206.0" x2="74.20" y2="201.8"/>
<line x1="74.20" y1="5.3" x2="74.20" y2="9.5"/>
<line x1="91.76" y1="206.0" x2="91.76" y2="203.6"/>
<line x1="91.76" y1="5.3" x2="91.76" y2="7.699999999999999"/>
<line x1="109.32" y1="206.0" x2="109.32" y2="203.6"/>
<line x1="109.32" y1="5.3" x2="109.32" y2="7.699999999999999"/>
<line x1="126.88" y1="206.0" x2="126.88" y2="203.6"/>
<line x1="126.88" y1="5.3" x2="126.88" y2="7.699999999999999"/>
<line x1="144.44" y1="206.0" x2="144.44" y2="203.6"/>
<line x1="144.44" y1="5.3" x2="144.44" y2="7.699999999999999"/>
<line x1="162.00" y1="206.0" x2="162.00" y2="201.8"/>
<line x1="162.00" y1="5.3" x2="162.00" y2="9.5"/>
<line x1="179.56" y1="206.0" x2="179.56" y2="203.6"/>
<line x1="179.56" y1="5.3" x2="179.56" y2="7.699999999999999"/>
<line x1="197.12" y1="206.0" x2="197.12" y2="203.6"/>
<line x1="197.12" y1="5.3" x2="197.12" y2="7.699999999999999"/>
<line x1="214.68" y1="206.0" x2="214.68" y2="203.6"/>
<line x1="214.68" y1="5.3" x2="214.68" y2="7.699999999999999"/>
<line x1="232.24" y1="206.0" x2="232.24" y2="203.6"/>
<line x1="232.24" y1="5.3" x2="232.24" y2="7.699999999999999"/>
<line x1="249.80" y1="206.0" x2="249.80" y2="201.8"/>
<line x1="249.80" y1="5.3" x2="249.80" y2="9.5"/>
<line x1="267.36" y1="206.0" x2="267.36" y2="203.6"/>
<line x1="267.36" y1="5.3" x2="267.36" y2="7.699999999999999"/>
<line x1="284.92" y1="206.0" x2="284.92" y2="203.6"/>
<line x1="284.92" y1="5.3" x2="284.92" y2="7.699999999999999"/>
<line x1="302.48" y1="206.0" x2="302.48" y2="203.6"/>
<line x1="302.48" y1="5.3" x2="302.48" y2="7.699999999999999"/>
<line x1="320.04" y1="206.0" x2="320.04" y2="203.6"/>
<line x1="320.04" y1="5.3" x2="320.04" y2="7.699999999999999"/>
<line x1="337.60" y1="206.0" x2="337.60" y2="201.8"/>
<line x1="337.60" y1="5.3" x2="337.60" y2="9.5"/>
<line x1="355.16" y1="206.0" x2="355.16" y2="203.6"/>
<line x1="355.16" y1="5.3" x2="355.16" y2="7.699999999999999"/>
<line x1="372.72" y1="206.0" x2="372.72" y2="203.6"/>
<line x1="372.72" y1="5.3" x2="372.72" y2="7.699999999999999"/>
<line x1="390.28" y1="206.0" x2="390.28" y2="203.6"/>
<line x1="390.28" y1="5.3" x2="390.28" y2="7.699999999999999"/>
<line x1="407.84" y1="206.0" x2="407.84" y2="203.6"/>
<line x1="407.84" y1="5.3" x2="407.84" y2="7.699999999999999"/>
<line x1="425.40" y1="206.0" x2="425.40" y2="201.8"/>
<line x1="425.40" y1="5.3" x2="425.40" y2="9.5"/>
<line x1="66.7" y1="202.67" x2="69.5" y2="202.67"/>
<line x1="428.8" y1="202.67" x2="426.0" y2="202.67"/>
<line x1="66.7" y1="196.05" x2="70.9" y2="196.05"/>
<line x1="428.8" y1="196.05" x2="424.6" y2="196.05"/>
<line x1="66.7" y1="189.43" x2="69.5" y2="189.43"/>
<line x1="428.8" y1="189.43" x2="426.0" y2="189.43"/>
<line x1="66.7" y1="182.81" x2="69.5" y2="182.81"/>
<line x1="428.8" y1="182.81" x2="426.0" y2="182.81"/>
<line x1="66.7" y1="176.18" x2="69.5" y2="176.18"/>
<line x1="428.8" y1="176.18" x2="426.0" y2="176.18"/>
<line x1="66.7" y1="169.56" x2="69.5" y2="169.56"/>
<line x1="428.8" y1="169.56" x2="426.0" y2="169.56"/>
<line x1="66.7" y1="162.94" x2="70.9" y2="162.94"/>
<line x1="428.8" y1="162.94" x2="424.6" y2="162.94"/>
<line x1="66.7" y1="156.32" x2="69.5" y2="156.32"/>
<line x1="428.8" y1="156.32" x2="426.0" y2="156.32"/>
<line x1="66.7" y1="149.70" x2="69.5" y2="149.70"/>
<line x1="428.8" y1="149.70" x2="426.0" y2="149.70"/>
<line x1="66.7" y1="143.07" x2="69.5" y2="143.07"/>
<line x1="428.8" y1="143.07" x2="426.0" y2="143.07"/>
<line x1="66.7" y1="136.45" x2="69.5" y2="136.45"/>
<line x1="428.8" y1="136.45" x2="426.0" y2="136.45"/>
<line x1="66.7" y1="129.83" x2="70.9" y2="129.83"/>
<line x1="428.8" y1="129.83" x2="424.6" y2="129.83"/>
<line x1="66.7" y1="123.21" x2="69.5" y2="123.21"/>
<line x1="428.8" y1="123.21" x2="426.0" y2="123.21"/>
<line x1="66.7" y1="116.59" x2="69.5" y2="116.59"/>
<line x1="428.8" y1="116.59" x2="426.0" y2="116.59"/>
<line x1="66.7" y1="109.96" x2="69.5" y2="109.96"/>
<line x1="428.8" y1="109.96" x2="426.0" y2="109.96"/>
<line x1="66.7" y1="103.34" x2="69.5" y2="103.34"/>
<line x1="428.8" y1="103.34" x2="426.0" y2="103.34"/>
<line x1="66.7" y1="96.72" x2="70.9" y2="96.72"/>
<line x1="428.8" y1="96.72" x2="424.6" y2="96.72"/>
<line x1="66.7" y1="90.10" x2="69.5" y2="90.10"/>
<line x1="428.8" y1="90.10" x2="426.0" y2="90.10"/>
<line x1="66.7" y1="83.48" x2="69.5" y2="83.48"/>
<line x1="428.8" y1="83.48" x2="426.0" y2="83.48"/>
<line x1="66.7" y1="76.85" x2="69.5" y2="76.85"/>
<line x1="428.8" y1="76.85" x2="426.0" y2="76.85"/>
<line x1="66.7" y1="70.23" x2="69.5" y2="70.23"/>
<line x1="428.8" y1="70.23" x2="426.0" y2="70.23"/>
<line x1="66.7" y1="63.61" x2="70.9" y2="63.61"/>
<line x1="428.8" y1="63.61" x2="424.6" y2="63.61"/>
<line x1="66.7" y1="56.99" x2="69.5" y2="56.99"/>
<line x1="428.8" y1="56.99" x2="426.0" y2="56.99"/>
<line x1="66.7" y1="50.37" x2="69.5" y2="50.37"/>
<line x1="428.8" y1="50.37" x2="426.0" y2="50.37"/>
<line x1="66.7" y1="43.74" x2="69.5" y2="43.74"/>
<line x1="428.8" y1="43.74" x2="426.0" y2="43.74"/>
<line x1="66.7" y1="37.12" x2="69.5" y2="37.12"/>
<line x1="428.8" y1="37.12" x2="426.0" y2="37.12"/>
<line x1="66.7" y1="30.50" x2="70.9" y2="30.50"/>
<line x1="428.8" y1="30.50" x2="424.6" y2="30.50"/>
<line x1="66.7" y1="23.88" x2="69.5" y2="23.88"/>
<line x1="428.8" y1="23.88" x2="426.0" y2="23.88"/>
<line x1="66.7" y1="17.26" x2="69.5" y2="17.26"/>
<line x1="428.8" y1="17.26" x2="426.0" y2="17.26"/>
<line x1="66.7" y1="10.63" x2="69.5" y2="10.63"/>
<line x1="428.8" y1="10.63" x2="426.0" y2="10.63"/>
</g>
<rect x="66.7" y="5.3" width="362.1" height="200.7" fill="none" stroke="#000" stroke-width="3.0"/>
<g fill="#000" opacity="0.999">
<text transform="translate(74.50,224.90) scale(1.09,1)" text-anchor="middle" font-size="16.0">0</text>
<text transform="translate(161.90,224.90) scale(1.09,1)" text-anchor="middle" font-size="16.0">5</text>
<path transform="translate(240.20,224.9) scale(0.00852,-0.00781)" d="M763 0H583V1147Q518 1085 412.5 1023T223 930V1104Q373 1174.5 485 1275T644 1466H763Z"/>
<text transform="translate(249.90,224.90) scale(1.09,1)" text-anchor="start" font-size="16.0">0</text>
<path transform="translate(327.60,224.9) scale(0.00852,-0.00781)" d="M763 0H583V1147Q518 1085 412.5 1023T223 930V1104Q373 1174.5 485 1275T644 1466H763Z"/>
<text transform="translate(337.30,224.90) scale(1.09,1)" text-anchor="start" font-size="16.0">5</text>
<text transform="translate(424.90,224.90) scale(1.09,1)" text-anchor="middle" font-size="16.0">20</text>
<text transform="translate(61.90,36.50) scale(1.09,1)" text-anchor="end" font-size="16.0">−<tspan dx="1.2">0.</tspan><tspan dx="-0.5">2</tspan></text>
<text transform="translate(61.90,69.61) scale(1.09,1)" text-anchor="end" font-size="16.0">−<tspan dx="1.2">0.</tspan><tspan dx="-0.5">3</tspan></text>
<text transform="translate(61.90,102.72) scale(1.09,1)" text-anchor="end" font-size="16.0">−<tspan dx="1.2">0.</tspan><tspan dx="-0.5">4</tspan></text>
<text transform="translate(61.90,135.83) scale(1.09,1)" text-anchor="end" font-size="16.0">−<tspan dx="1.2">0.</tspan><tspan dx="-0.5">5</tspan></text>
<text transform="translate(61.90,168.94) scale(1.09,1)" text-anchor="end" font-size="16.0">−<tspan dx="1.2">0.</tspan><tspan dx="-0.5">6</tspan></text>
<text transform="translate(61.90,202.05) scale(1.09,1)" text-anchor="end" font-size="16.0">−<tspan dx="1.2">0.</tspan><tspan dx="-0.5">7</tspan></text>
<text transform="translate(216.3,251.3) scale(1.18,1)" font-size="14.6">s<tspan font-size="16.3" dy="0.6">(</tspan><tspan dy="-0.6" dx="0.4">GeV</tspan><tspan font-size="10.8" dy="-6.8" dx="0.2">2</tspan><tspan dy="7.2" dx="0.5" font-size="16.3">)</tspan></text>
<text transform="translate(186.1,32.4) scale(1.10,1)" font-size="18.4" font-weight="bold">(c)</text>
<text transform="translate(14.8,115.0) scale(1.04,1) rotate(-90)" font-size="17.2" font-style="italic">P<tspan font-size="11.9" dy="2.6" dx="-0.9" font-style="normal">9</tspan></text>
</g>
</svg>
</body></html>
